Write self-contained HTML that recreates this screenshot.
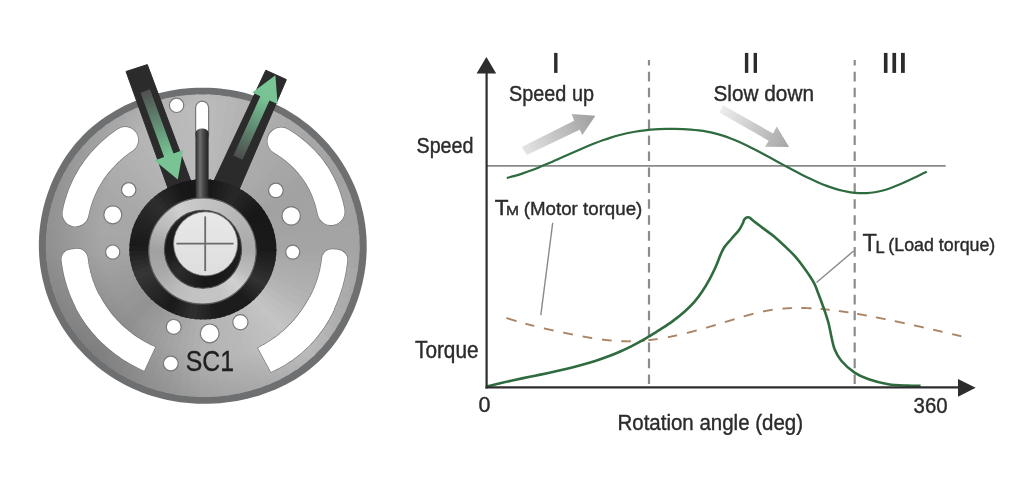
<!DOCTYPE html>
<html><head><meta charset="utf-8"><style>
html,body{margin:0;padding:0;background:#fff;width:1024px;height:485px;overflow:hidden}
svg{display:block}
text{font-family:"Liberation Sans", sans-serif;fill:#2b2b2b;stroke:#2b2b2b;stroke-width:0.4px}
</style></head><body>
<svg width="1024" height="485" viewBox="0 0 1024 485">

<defs>
<linearGradient id="gup" x1="522" y1="151" x2="595" y2="116" gradientUnits="userSpaceOnUse">
 <stop offset="0" stop-color="#e6e6e6"/><stop offset="1" stop-color="#9e9e9e"/></linearGradient>
<linearGradient id="gdown" x1="721" y1="109" x2="789" y2="147" gradientUnits="userSpaceOnUse">
 <stop offset="0" stop-color="#ededed"/><stop offset="1" stop-color="#a6a6a6"/></linearGradient>
<radialGradient id="vign" cx="228" cy="228" r="192" gradientUnits="userSpaceOnUse">
 <stop offset="0.66" stop-color="#000" stop-opacity="0"/><stop offset="1" stop-color="#000" stop-opacity="0.16"/></radialGradient>
<linearGradient id="rod" x1="0" y1="0" x2="1" y2="0">
 <stop offset="0" stop-color="#2a2a2a"/><stop offset="0.35" stop-color="#6e6e6e"/><stop offset="0.6" stop-color="#4a4a4a"/><stop offset="1" stop-color="#222"/></linearGradient>
<linearGradient id="blk" x1="0" y1="0" x2="1" y2="1">
 <stop offset="0" stop-color="#222"/><stop offset="0.5" stop-color="#2c2c2c"/><stop offset="1" stop-color="#181818"/></linearGradient>
<linearGradient id="silv" x1="0" y1="0" x2="0" y2="1">
 <stop offset="0" stop-color="#d0d0d0"/><stop offset="1" stop-color="#a8a8a8"/></linearGradient>
<linearGradient id="crs" x1="0" y1="0" x2="0" y2="1">
 <stop offset="0" stop-color="#3a3a3a"/><stop offset="1" stop-color="#1a1a1a"/></linearGradient>
<linearGradient id="wd" x1="0" y1="0" x2="0" y2="1">
 <stop offset="0" stop-color="#e8e8e8"/><stop offset="1" stop-color="#dedede"/></linearGradient>
<linearGradient id="gl" x1="145" y1="91" x2="178" y2="180" gradientUnits="userSpaceOnUse">
 <stop offset="0" stop-color="#505050"/><stop offset="0.45" stop-color="#66987a"/><stop offset="0.72" stop-color="#78c394"/><stop offset="1" stop-color="#7ac496"/></linearGradient>
<linearGradient id="gr" x1="238" y1="158" x2="275" y2="75" gradientUnits="userSpaceOnUse">
 <stop offset="0" stop-color="#4c4c4c"/><stop offset="0.45" stop-color="#66987a"/><stop offset="0.72" stop-color="#78c394"/><stop offset="1" stop-color="#7ac496"/></linearGradient>
</defs>

<rect width="1024" height="485" fill="#fff"/>

<path d="M366.72,245.65 L366.65,251.17 L366.38,256.68 L365.93,262.18 L365.29,267.67 L364.46,273.14 L363.44,278.58 L362.25,283.99 L360.88,289.36 L359.32,294.69 L357.59,299.98 L355.69,305.22 L353.61,310.40 L351.35,315.52 L348.91,320.57 L346.29,325.54 L343.49,330.43 L340.51,335.23 L337.34,339.92 L333.99,344.50 L330.45,348.95 L326.73,353.27 L322.83,357.44 L318.75,361.45 L314.50,365.30 L310.09,368.97 L305.52,372.46 L300.81,375.77 L295.97,378.88 L291.01,381.81 L285.93,384.55 L280.76,387.09 L275.50,389.45 L270.17,391.62 L264.76,393.61 L259.30,395.42 L253.78,397.05 L248.22,398.51 L242.61,399.79 L236.98,400.89 L231.31,401.82 L225.63,402.58 L219.92,403.16 L214.20,403.56 L208.48,403.79 L202.75,403.83 L197.03,403.69 L191.31,403.37 L185.61,402.86 L179.93,402.17 L174.28,401.29 L168.67,400.22 L163.10,398.98 L157.57,397.54 L152.10,395.93 L146.69,394.13 L141.35,392.15 L136.09,389.99 L130.90,387.66 L125.81,385.16 L120.80,382.48 L115.90,379.64 L111.10,376.64 L106.42,373.47 L101.85,370.16 L97.40,366.69 L93.08,363.07 L88.90,359.31 L84.85,355.41 L80.95,351.37 L77.20,347.21 L73.60,342.92 L70.16,338.52 L66.88,334.00 L63.76,329.38 L60.81,324.65 L58.04,319.83 L55.44,314.91 L53.03,309.91 L50.79,304.84 L48.74,299.69 L46.88,294.47 L45.20,289.20 L43.72,283.87 L42.44,278.50 L41.34,273.09 L40.45,267.64 L39.75,262.17 L39.24,256.67 L38.94,251.16 L38.83,245.65 L38.92,240.13 L39.20,234.63 L39.68,229.13 L40.35,223.65 L41.22,218.19 L42.27,212.76 L43.50,207.37 L44.92,202.02 L46.53,196.72 L48.31,191.46 L50.27,186.26 L52.42,181.12 L54.74,176.05 L57.23,171.06 L59.91,166.15 L62.77,161.32 L65.80,156.60 L69.02,151.98 L72.42,147.49 L75.99,143.11 L79.74,138.88 L83.66,134.78 L87.75,130.85 L91.99,127.07 L96.39,123.45 L100.92,120.00 L105.59,116.73 L110.38,113.63 L115.28,110.70 L120.28,107.95 L125.38,105.37 L130.56,102.96 L135.82,100.72 L141.15,98.66 L146.54,96.77 L151.99,95.05 L157.49,93.50 L163.05,92.13 L168.64,90.94 L174.27,89.92 L179.93,89.09 L185.61,88.45 L191.31,87.99 L197.03,87.71 L202.75,87.63 L208.47,87.73 L214.18,88.02 L219.88,88.51 L225.56,89.18 L231.21,90.05 L236.83,91.10 L242.40,92.34 L247.93,93.77 L253.40,95.38 L258.80,97.18 L264.15,99.15 L269.41,101.31 L274.60,103.64 L279.69,106.14 L284.70,108.82 L289.60,111.66 L294.40,114.66 L299.08,117.83 L303.65,121.14 L308.10,124.61 L312.42,128.23 L316.60,131.99 L320.65,135.89 L324.55,139.93 L328.30,144.09 L331.90,148.38 L335.34,152.78 L338.62,157.30 L341.74,161.92 L344.69,166.65 L347.46,171.47 L350.06,176.39 L352.47,181.39 L354.71,186.46 L356.76,191.61 L358.62,196.82 L360.30,202.10 L361.78,207.42 L363.07,212.80 L364.17,218.21 L365.07,223.66 L365.77,229.13 L366.29,234.63 L366.60,240.13 Z" fill="#6d6f71"/>
<clipPath id="facec"><path d="M359.65,245.65 L359.58,250.93 L359.32,256.20 L358.88,261.47 L358.25,266.72 L357.45,271.95 L356.47,277.15 L355.31,282.32 L353.98,287.45 L352.47,292.55 L350.80,297.60 L348.95,302.60 L346.94,307.54 L344.75,312.42 L342.39,317.23 L339.86,321.96 L337.16,326.62 L334.28,331.18 L331.24,335.64 L328.01,340.00 L324.62,344.23 L321.05,348.34 L317.32,352.31 L313.42,356.13 L309.36,359.80 L305.15,363.30 L300.80,366.64 L296.32,369.81 L291.71,372.80 L286.99,375.61 L282.16,378.24 L277.24,380.70 L272.23,382.98 L267.15,385.08 L261.99,387.01 L256.78,388.77 L251.52,390.36 L246.21,391.77 L240.86,393.02 L235.48,394.10 L230.07,395.01 L224.63,395.75 L219.18,396.32 L213.71,396.72 L208.23,396.94 L202.75,396.99 L197.27,396.87 L191.80,396.56 L186.35,396.08 L180.92,395.42 L175.51,394.58 L170.14,393.57 L164.80,392.37 L159.52,391.00 L154.28,389.46 L149.11,387.74 L144.00,385.84 L138.96,383.78 L134.00,381.55 L129.12,379.15 L124.33,376.59 L119.64,373.88 L115.05,371.00 L110.56,367.97 L106.19,364.80 L101.94,361.48 L97.80,358.01 L93.80,354.41 L89.93,350.68 L86.20,346.82 L82.60,342.84 L79.16,338.74 L75.86,334.52 L72.72,330.20 L69.74,325.77 L66.92,321.25 L64.27,316.63 L61.78,311.93 L59.47,307.15 L57.33,302.29 L55.37,297.36 L53.59,292.37 L51.99,287.33 L50.57,282.23 L49.34,277.09 L48.29,271.91 L47.43,266.69 L46.76,261.46 L46.28,256.20 L45.99,250.93 L45.89,245.65 L45.98,240.37 L46.25,235.10 L46.71,229.84 L47.36,224.60 L48.19,219.38 L49.20,214.19 L50.39,209.03 L51.76,203.91 L53.31,198.84 L55.03,193.82 L56.92,188.85 L58.98,183.94 L61.22,179.10 L63.62,174.34 L66.20,169.65 L68.95,165.05 L71.87,160.54 L74.96,156.14 L78.21,151.85 L81.64,147.68 L85.23,143.64 L88.98,139.73 L92.88,135.97 L96.93,132.35 L101.12,128.89 L105.45,125.59 L109.90,122.45 L114.47,119.47 L119.14,116.66 L123.91,114.01 L128.78,111.53 L133.72,109.21 L138.74,107.05 L143.83,105.06 L148.98,103.24 L154.19,101.58 L159.45,100.09 L164.76,98.77 L170.11,97.62 L175.50,96.65 L180.91,95.85 L186.35,95.22 L191.81,94.78 L197.28,94.51 L202.75,94.43 L208.22,94.53 L213.69,94.81 L219.14,95.27 L224.58,95.92 L229.99,96.74 L235.36,97.75 L240.69,98.94 L245.98,100.31 L251.22,101.85 L256.39,103.57 L261.50,105.46 L266.54,107.52 L271.50,109.75 L276.38,112.15 L281.17,114.71 L285.86,117.43 L290.45,120.30 L294.94,123.33 L299.31,126.50 L303.56,129.82 L307.70,133.29 L311.70,136.89 L315.57,140.62 L319.30,144.48 L322.90,148.46 L326.34,152.56 L329.64,156.78 L332.78,161.10 L335.76,165.53 L338.58,170.05 L341.23,174.67 L343.72,179.37 L346.03,184.15 L348.17,189.01 L350.13,193.94 L351.92,198.93 L353.52,203.97 L354.94,209.07 L356.17,214.21 L357.22,219.39 L358.08,224.60 L358.75,229.84 L359.24,235.10 L359.54,240.37 Z"/></clipPath>
<g clip-path="url(#facec)"><path d="M203,248 L423.0,245.7 L422.3,265.6 Z" fill="rgb(165,165,165)"/>
<path d="M203,248 L422.6,261.0 L420.5,280.9 Z" fill="rgb(167,167,167)"/>
<path d="M203,248 L421.2,276.3 L417.7,296.0 Z" fill="rgb(170,170,170)"/>
<path d="M203,248 L418.7,291.5 L413.8,310.9 Z" fill="rgb(172,172,172)"/>
<path d="M203,248 L415.1,306.4 L408.9,325.4 Z" fill="rgb(174,174,174)"/>
<path d="M203,248 L410.5,321.1 L403.0,339.6 Z" fill="rgb(176,176,176)"/>
<path d="M203,248 L404.9,335.4 L396.2,353.3 Z" fill="rgb(179,179,179)"/>
<path d="M203,248 L398.3,349.2 L388.3,366.5 Z" fill="rgb(182,182,182)"/>
<path d="M203,248 L390.8,362.6 L379.6,379.2 Z" fill="rgb(186,186,186)"/>
<path d="M203,248 L382.3,375.4 L370.0,391.2 Z" fill="rgb(190,190,190)"/>
<path d="M203,248 L373.0,387.6 L359.6,402.5 Z" fill="rgb(193,193,193)"/>
<path d="M203,248 L362.8,399.2 L348.5,413.0 Z" fill="rgb(196,196,196)"/>
<path d="M203,248 L351.9,409.9 L336.6,422.8 Z" fill="rgb(194,194,194)"/>
<path d="M203,248 L340.3,419.9 L324.1,431.7 Z" fill="rgb(192,192,192)"/>
<path d="M203,248 L327.9,429.1 L311.0,439.7 Z" fill="rgb(190,190,190)"/>
<path d="M203,248 L315.0,437.4 L297.4,446.7 Z" fill="rgb(188,188,188)"/>
<path d="M203,248 L301.5,444.7 L283.3,452.8 Z" fill="rgb(186,186,186)"/>
<path d="M203,248 L287.5,451.1 L268.8,457.9 Z" fill="rgb(184,184,184)"/>
<path d="M203,248 L273.2,456.5 L254.0,462.0 Z" fill="rgb(183,183,183)"/>
<path d="M203,248 L258.5,460.9 L238.9,465.0 Z" fill="rgb(182,182,182)"/>
<path d="M203,248 L243.5,464.2 L223.7,467.0 Z" fill="rgb(181,181,181)"/>
<path d="M203,248 L228.3,466.5 L208.4,467.9 Z" fill="rgb(179,179,179)"/>
<path d="M203,248 L213.0,467.8 L193.0,467.8 Z" fill="rgb(178,178,178)"/>
<path d="M203,248 L197.6,467.9 L177.7,466.5 Z" fill="rgb(175,175,175)"/>
<path d="M203,248 L182.3,467.0 L162.5,464.2 Z" fill="rgb(172,172,172)"/>
<path d="M203,248 L167.1,465.0 L147.5,460.9 Z" fill="rgb(169,169,169)"/>
<path d="M203,248 L152.0,462.0 L132.8,456.5 Z" fill="rgb(166,166,166)"/>
<path d="M203,248 L137.2,457.9 L118.5,451.1 Z" fill="rgb(164,164,164)"/>
<path d="M203,248 L122.7,452.8 L104.5,444.7 Z" fill="rgb(161,161,161)"/>
<path d="M203,248 L108.6,446.7 L91.0,437.4 Z" fill="rgb(158,158,158)"/>
<path d="M203,248 L95.0,439.7 L78.1,429.1 Z" fill="rgb(155,155,155)"/>
<path d="M203,248 L81.9,431.7 L65.7,419.9 Z" fill="rgb(152,152,152)"/>
<path d="M203,248 L69.4,422.8 L54.1,409.9 Z" fill="rgb(150,150,150)"/>
<path d="M203,248 L57.5,413.0 L43.2,399.2 Z" fill="rgb(147,147,147)"/>
<path d="M203,248 L46.4,402.5 L33.0,387.6 Z" fill="rgb(147,147,147)"/>
<path d="M203,248 L36.0,391.2 L23.7,375.4 Z" fill="rgb(149,149,149)"/>
<path d="M203,248 L26.4,379.2 L15.2,362.6 Z" fill="rgb(150,150,150)"/>
<path d="M203,248 L17.7,366.5 L7.7,349.2 Z" fill="rgb(152,152,152)"/>
<path d="M203,248 L9.8,353.3 L1.1,335.4 Z" fill="rgb(154,154,154)"/>
<path d="M203,248 L3.0,339.6 L-4.5,321.1 Z" fill="rgb(155,155,155)"/>
<path d="M203,248 L-2.9,325.4 L-9.1,306.4 Z" fill="rgb(157,157,157)"/>
<path d="M203,248 L-7.8,310.9 L-12.7,291.5 Z" fill="rgb(159,159,159)"/>
<path d="M203,248 L-11.7,296.0 L-15.2,276.3 Z" fill="rgb(161,161,161)"/>
<path d="M203,248 L-14.5,280.9 L-16.6,261.0 Z" fill="rgb(163,163,163)"/>
<path d="M203,248 L-16.3,265.6 L-17.0,245.7 Z" fill="rgb(165,165,165)"/>
<path d="M203,248 L-17.0,250.3 L-16.3,230.4 Z" fill="rgb(166,166,166)"/>
<path d="M203,248 L-16.6,235.0 L-14.5,215.1 Z" fill="rgb(166,166,166)"/>
<path d="M203,248 L-15.2,219.7 L-11.7,200.0 Z" fill="rgb(167,167,167)"/>
<path d="M203,248 L-12.7,204.5 L-7.8,185.1 Z" fill="rgb(167,167,167)"/>
<path d="M203,248 L-9.1,189.6 L-2.9,170.6 Z" fill="rgb(167,167,167)"/>
<path d="M203,248 L-4.5,174.9 L3.0,156.4 Z" fill="rgb(167,167,167)"/>
<path d="M203,248 L1.1,160.6 L9.8,142.7 Z" fill="rgb(168,168,168)"/>
<path d="M203,248 L7.7,146.8 L17.7,129.5 Z" fill="rgb(168,168,168)"/>
<path d="M203,248 L15.2,133.4 L26.4,116.8 Z" fill="rgb(170,170,170)"/>
<path d="M203,248 L23.7,120.6 L36.0,104.8 Z" fill="rgb(171,171,171)"/>
<path d="M203,248 L33.0,108.4 L46.4,93.5 Z" fill="rgb(173,173,173)"/>
<path d="M203,248 L43.2,96.8 L57.5,83.0 Z" fill="rgb(174,174,174)"/>
<path d="M203,248 L54.1,86.1 L69.4,73.2 Z" fill="rgb(176,176,176)"/>
<path d="M203,248 L65.7,76.1 L81.9,64.3 Z" fill="rgb(178,178,178)"/>
<path d="M203,248 L78.1,66.9 L95.0,56.3 Z" fill="rgb(179,179,179)"/>
<path d="M203,248 L91.0,58.6 L108.6,49.3 Z" fill="rgb(181,181,181)"/>
<path d="M203,248 L104.5,51.3 L122.7,43.2 Z" fill="rgb(182,182,182)"/>
<path d="M203,248 L118.5,44.9 L137.2,38.1 Z" fill="rgb(183,183,183)"/>
<path d="M203,248 L132.8,39.5 L152.0,34.0 Z" fill="rgb(184,184,184)"/>
<path d="M203,248 L147.5,35.1 L167.1,31.0 Z" fill="rgb(185,185,185)"/>
<path d="M203,248 L162.5,31.8 L182.3,29.0 Z" fill="rgb(186,186,186)"/>
<path d="M203,248 L177.7,29.5 L197.6,28.1 Z" fill="rgb(187,187,187)"/>
<path d="M203,248 L193.0,28.2 L213.0,28.2 Z" fill="rgb(188,188,188)"/>
<path d="M203,248 L208.4,28.1 L228.3,29.5 Z" fill="rgb(186,186,186)"/>
<path d="M203,248 L223.7,29.0 L243.5,31.8 Z" fill="rgb(184,184,184)"/>
<path d="M203,248 L238.9,31.0 L258.5,35.1 Z" fill="rgb(182,182,182)"/>
<path d="M203,248 L254.0,34.0 L273.2,39.5 Z" fill="rgb(179,179,179)"/>
<path d="M203,248 L268.8,38.1 L287.5,44.9 Z" fill="rgb(177,177,177)"/>
<path d="M203,248 L283.3,43.2 L301.5,51.3 Z" fill="rgb(175,175,175)"/>
<path d="M203,248 L297.4,49.3 L315.0,58.6 Z" fill="rgb(173,173,173)"/>
<path d="M203,248 L311.0,56.3 L327.9,66.9 Z" fill="rgb(171,171,171)"/>
<path d="M203,248 L324.1,64.3 L340.3,76.1 Z" fill="rgb(170,170,170)"/>
<path d="M203,248 L336.6,73.2 L351.9,86.1 Z" fill="rgb(169,169,169)"/>
<path d="M203,248 L348.5,83.0 L362.8,96.8 Z" fill="rgb(167,167,167)"/>
<path d="M203,248 L359.6,93.5 L373.0,108.4 Z" fill="rgb(166,166,166)"/>
<path d="M203,248 L370.0,104.8 L382.3,120.6 Z" fill="rgb(165,165,165)"/>
<path d="M203,248 L379.6,116.8 L390.8,133.4 Z" fill="rgb(163,163,163)"/>
<path d="M203,248 L388.3,129.5 L398.3,146.8 Z" fill="rgb(162,162,162)"/>
<path d="M203,248 L396.2,142.7 L404.9,160.6 Z" fill="rgb(162,162,162)"/>
<path d="M203,248 L403.0,156.4 L410.5,174.9 Z" fill="rgb(163,163,163)"/>
<path d="M203,248 L408.9,170.6 L415.1,189.6 Z" fill="rgb(163,163,163)"/>
<path d="M203,248 L413.8,185.1 L418.7,204.5 Z" fill="rgb(163,163,163)"/>
<path d="M203,248 L417.7,200.0 L421.2,219.7 Z" fill="rgb(163,163,163)"/>
<path d="M203,248 L420.5,215.1 L422.6,235.0 Z" fill="rgb(164,164,164)"/>
<path d="M203,248 L422.3,230.4 L423.0,250.3 Z" fill="rgb(164,164,164)"/>
<path d="M359.65,245.65 L359.58,250.93 L359.32,256.20 L358.88,261.47 L358.25,266.72 L357.45,271.95 L356.47,277.15 L355.31,282.32 L353.98,287.45 L352.47,292.55 L350.80,297.60 L348.95,302.60 L346.94,307.54 L344.75,312.42 L342.39,317.23 L339.86,321.96 L337.16,326.62 L334.28,331.18 L331.24,335.64 L328.01,340.00 L324.62,344.23 L321.05,348.34 L317.32,352.31 L313.42,356.13 L309.36,359.80 L305.15,363.30 L300.80,366.64 L296.32,369.81 L291.71,372.80 L286.99,375.61 L282.16,378.24 L277.24,380.70 L272.23,382.98 L267.15,385.08 L261.99,387.01 L256.78,388.77 L251.52,390.36 L246.21,391.77 L240.86,393.02 L235.48,394.10 L230.07,395.01 L224.63,395.75 L219.18,396.32 L213.71,396.72 L208.23,396.94 L202.75,396.99 L197.27,396.87 L191.80,396.56 L186.35,396.08 L180.92,395.42 L175.51,394.58 L170.14,393.57 L164.80,392.37 L159.52,391.00 L154.28,389.46 L149.11,387.74 L144.00,385.84 L138.96,383.78 L134.00,381.55 L129.12,379.15 L124.33,376.59 L119.64,373.88 L115.05,371.00 L110.56,367.97 L106.19,364.80 L101.94,361.48 L97.80,358.01 L93.80,354.41 L89.93,350.68 L86.20,346.82 L82.60,342.84 L79.16,338.74 L75.86,334.52 L72.72,330.20 L69.74,325.77 L66.92,321.25 L64.27,316.63 L61.78,311.93 L59.47,307.15 L57.33,302.29 L55.37,297.36 L53.59,292.37 L51.99,287.33 L50.57,282.23 L49.34,277.09 L48.29,271.91 L47.43,266.69 L46.76,261.46 L46.28,256.20 L45.99,250.93 L45.89,245.65 L45.98,240.37 L46.25,235.10 L46.71,229.84 L47.36,224.60 L48.19,219.38 L49.20,214.19 L50.39,209.03 L51.76,203.91 L53.31,198.84 L55.03,193.82 L56.92,188.85 L58.98,183.94 L61.22,179.10 L63.62,174.34 L66.20,169.65 L68.95,165.05 L71.87,160.54 L74.96,156.14 L78.21,151.85 L81.64,147.68 L85.23,143.64 L88.98,139.73 L92.88,135.97 L96.93,132.35 L101.12,128.89 L105.45,125.59 L109.90,122.45 L114.47,119.47 L119.14,116.66 L123.91,114.01 L128.78,111.53 L133.72,109.21 L138.74,107.05 L143.83,105.06 L148.98,103.24 L154.19,101.58 L159.45,100.09 L164.76,98.77 L170.11,97.62 L175.50,96.65 L180.91,95.85 L186.35,95.22 L191.81,94.78 L197.28,94.51 L202.75,94.43 L208.22,94.53 L213.69,94.81 L219.14,95.27 L224.58,95.92 L229.99,96.74 L235.36,97.75 L240.69,98.94 L245.98,100.31 L251.22,101.85 L256.39,103.57 L261.50,105.46 L266.54,107.52 L271.50,109.75 L276.38,112.15 L281.17,114.71 L285.86,117.43 L290.45,120.30 L294.94,123.33 L299.31,126.50 L303.56,129.82 L307.70,133.29 L311.70,136.89 L315.57,140.62 L319.30,144.48 L322.90,148.46 L326.34,152.56 L329.64,156.78 L332.78,161.10 L335.76,165.53 L338.58,170.05 L341.23,174.67 L343.72,179.37 L346.03,184.15 L348.17,189.01 L350.13,193.94 L351.92,198.93 L353.52,203.97 L354.94,209.07 L356.17,214.21 L357.22,219.39 L358.08,224.60 L358.75,229.84 L359.24,235.10 L359.54,240.37 Z" fill="url(#vign)"/></g>
<path d="M75.53,213.47 L75.98,211.30 L76.48,209.13 L77.02,206.97 L77.59,204.81 L78.22,202.66 L78.88,200.53 L79.58,198.40 L80.33,196.28 L81.12,194.18 L81.95,192.09 L82.83,190.01 L83.74,187.95 L84.71,185.90 L85.71,183.88 L86.75,181.87 L87.84,179.88 L88.97,177.91 L90.14,175.96 L91.36,174.03 L92.61,172.13 L93.90,170.25 L95.24,168.39 L96.61,166.56 L98.02,164.76 L99.47,162.99 L100.95,161.24 L102.47,159.52 L104.03,157.83 L105.62,156.17 L107.24,154.54 L108.90,152.94 L110.59,151.37 L112.31,149.83 L114.06,148.32 L115.84,146.85 L117.64,145.41 L119.47,144.00 L121.33,142.62 L123.22,141.27 L125.13,139.96" fill="none" stroke="#76787a" stroke-width="27.3" stroke-linecap="round" stroke-linejoin="round"/>
<path d="M281.02,141.02 L282.94,142.20 L284.83,143.42 L286.70,144.67 L288.55,145.95 L290.38,147.26 L292.18,148.61 L293.95,150.00 L295.70,151.42 L297.42,152.87 L299.11,154.36 L300.76,155.89 L302.39,157.45 L303.98,159.04 L305.53,160.67 L307.05,162.32 L308.52,164.02 L309.96,165.74 L311.36,167.49 L312.72,169.27 L314.03,171.09 L315.31,172.93 L316.54,174.79 L317.72,176.69 L318.86,178.60 L319.96,180.54 L321.01,182.51 L322.02,184.49 L322.98,186.49 L323.89,188.51 L324.76,190.55 L325.59,192.60 L326.36,194.67 L327.10,196.75 L327.79,198.85 L328.44,200.95 L329.05,203.06 L329.61,205.18 L330.13,207.31 L330.61,209.44 L331.06,211.58" fill="none" stroke="#76787a" stroke-width="28.3" stroke-linecap="round" stroke-linejoin="round"/>
<path d="M71.57,259.35 L72.00,262.70 L72.51,266.04 L73.12,269.37 L73.82,272.68 L74.61,275.97 L75.49,279.23 L76.46,282.48 L77.51,285.70 L78.66,288.89 L79.90,292.05 L81.22,295.17 L82.62,298.26 L84.11,301.32 L85.69,304.34 L87.34,307.31 L89.08,310.24 L90.90,313.13 L92.80,315.96 L94.77,318.75 L96.82,321.49 L101.74,317.97 L99.78,315.36 L97.90,312.70 L96.09,310.00 L94.35,307.24 L92.70,304.45 L91.12,301.61 L89.62,298.74 L88.19,295.82 L86.85,292.88 L85.59,289.89 L84.42,286.88 L83.32,283.84 L82.31,280.77 L81.39,277.68 L80.55,274.56 L79.80,271.42 L79.13,268.27 L78.55,265.10 L78.06,261.91 L77.66,258.72 Z" fill="#76787a" stroke="#76787a" stroke-width="21.3" stroke-linejoin="round"/>
<path d="M75.50,307.08 L76.98,309.86 L78.53,312.60 L80.14,315.30 L81.81,317.98 L83.55,320.61 L85.35,323.20 L87.21,325.76 L89.13,328.27 L91.11,330.74 L93.15,333.17 L95.24,335.55 L97.39,337.88 L99.59,340.17 L101.85,342.41 L104.16,344.59 L106.52,346.73 L108.93,348.81 L111.38,350.84 L113.89,352.82 L116.44,354.74 L119.04,356.60 L121.68,358.41 L124.36,360.16 L127.08,361.85 L129.84,363.48 L132.64,365.05 L135.48,366.55 L138.35,368.00 L141.25,369.38 L144.18,370.69 L155.24,347.09 L152.86,346.02 L150.50,344.90 L148.18,343.73 L145.88,342.51 L143.61,341.24 L141.37,339.91 L139.16,338.54 L136.98,337.13 L134.84,335.66 L132.73,334.15 L130.66,332.59 L128.63,330.99 L126.64,329.34 L124.68,327.65 L122.77,325.91 L120.90,324.14 L119.06,322.32 L117.28,320.47 L115.53,318.58 L113.84,316.65 L112.18,314.68 L110.58,312.67 L109.02,310.63 L107.51,308.56 L106.05,306.46 L104.64,304.32 L103.28,302.16 L101.98,299.96 L100.72,297.74 L99.52,295.49 Z" fill="#76787a" stroke="#76787a" stroke-width="1.3" stroke-linejoin="miter"/>
<path d="M337.31,259.71 L336.92,263.15 L336.44,266.58 L335.87,270.01 L335.22,273.42 L334.48,276.81 L333.66,280.19 L332.75,283.56 L331.76,286.90 L330.69,290.23 L329.53,293.53 L328.29,296.81 L326.97,300.06 L325.56,303.28 L324.07,306.47 L322.50,309.63 L320.83,312.75 L319.08,315.83 L317.24,318.87 L315.31,321.85 L313.29,324.79 L307.10,320.36 L309.12,317.66 L311.06,314.91 L312.93,312.12 L314.72,309.28 L316.43,306.39 L318.06,303.46 L319.62,300.49 L321.08,297.48 L322.47,294.43 L323.77,291.35 L324.99,288.24 L326.11,285.10 L327.16,281.93 L328.11,278.73 L328.98,275.51 L329.76,272.27 L330.44,269.01 L331.04,265.74 L331.55,262.45 L331.97,259.15 Z" fill="#76787a" stroke="#76787a" stroke-width="21.3" stroke-linejoin="round"/>
<path d="M334.22,309.12 L332.92,311.80 L331.57,314.47 L330.16,317.11 L328.70,319.72 L327.17,322.31 L325.59,324.86 L323.94,327.39 L322.24,329.87 L320.47,332.33 L318.65,334.74 L316.77,337.11 L314.82,339.44 L312.82,341.72 L310.76,343.95 L308.64,346.14 L306.46,348.27 L304.23,350.35 L301.94,352.38 L299.60,354.34 L297.21,356.25 L294.77,358.10 L292.29,359.89 L289.76,361.62 L287.18,363.29 L284.57,364.89 L281.92,366.44 L279.23,367.92 L276.51,369.34 L273.76,370.70 L270.98,372.00 L257.98,347.92 L260.18,346.79 L262.36,345.61 L264.51,344.39 L266.64,343.12 L268.73,341.82 L270.80,340.47 L272.84,339.08 L274.85,337.64 L276.83,336.17 L278.77,334.66 L280.68,333.11 L282.56,331.52 L284.40,329.90 L286.21,328.23 L287.98,326.54 L289.72,324.80 L291.41,323.03 L293.07,321.23 L294.69,319.40 L296.26,317.53 L297.80,315.63 L299.30,313.70 L300.75,311.74 L302.16,309.76 L303.53,307.74 L304.85,305.70 L306.13,303.63 L307.36,301.54 L308.55,299.42 L309.69,297.28 Z" fill="#76787a" stroke="#76787a" stroke-width="1.3" stroke-linejoin="miter"/>
<path d="M75.53,213.47 L75.98,211.30 L76.48,209.13 L77.02,206.97 L77.59,204.81 L78.22,202.66 L78.88,200.53 L79.58,198.40 L80.33,196.28 L81.12,194.18 L81.95,192.09 L82.83,190.01 L83.74,187.95 L84.71,185.90 L85.71,183.88 L86.75,181.87 L87.84,179.88 L88.97,177.91 L90.14,175.96 L91.36,174.03 L92.61,172.13 L93.90,170.25 L95.24,168.39 L96.61,166.56 L98.02,164.76 L99.47,162.99 L100.95,161.24 L102.47,159.52 L104.03,157.83 L105.62,156.17 L107.24,154.54 L108.90,152.94 L110.59,151.37 L112.31,149.83 L114.06,148.32 L115.84,146.85 L117.64,145.41 L119.47,144.00 L121.33,142.62 L123.22,141.27 L125.13,139.96" fill="none" stroke="#ffffff" stroke-width="26.0" stroke-linecap="round" stroke-linejoin="round"/>
<path d="M281.02,141.02 L282.94,142.20 L284.83,143.42 L286.70,144.67 L288.55,145.95 L290.38,147.26 L292.18,148.61 L293.95,150.00 L295.70,151.42 L297.42,152.87 L299.11,154.36 L300.76,155.89 L302.39,157.45 L303.98,159.04 L305.53,160.67 L307.05,162.32 L308.52,164.02 L309.96,165.74 L311.36,167.49 L312.72,169.27 L314.03,171.09 L315.31,172.93 L316.54,174.79 L317.72,176.69 L318.86,178.60 L319.96,180.54 L321.01,182.51 L322.02,184.49 L322.98,186.49 L323.89,188.51 L324.76,190.55 L325.59,192.60 L326.36,194.67 L327.10,196.75 L327.79,198.85 L328.44,200.95 L329.05,203.06 L329.61,205.18 L330.13,207.31 L330.61,209.44 L331.06,211.58" fill="none" stroke="#ffffff" stroke-width="27.0" stroke-linecap="round" stroke-linejoin="round"/>
<path d="M71.57,259.35 L72.00,262.70 L72.51,266.04 L73.12,269.37 L73.82,272.68 L74.61,275.97 L75.49,279.23 L76.46,282.48 L77.51,285.70 L78.66,288.89 L79.90,292.05 L81.22,295.17 L82.62,298.26 L84.11,301.32 L85.69,304.34 L87.34,307.31 L89.08,310.24 L90.90,313.13 L92.80,315.96 L94.77,318.75 L96.82,321.49 L101.74,317.97 L99.78,315.36 L97.90,312.70 L96.09,310.00 L94.35,307.24 L92.70,304.45 L91.12,301.61 L89.62,298.74 L88.19,295.82 L86.85,292.88 L85.59,289.89 L84.42,286.88 L83.32,283.84 L82.31,280.77 L81.39,277.68 L80.55,274.56 L79.80,271.42 L79.13,268.27 L78.55,265.10 L78.06,261.91 L77.66,258.72 Z" fill="#ffffff" stroke="#ffffff" stroke-width="20.0" stroke-linejoin="round"/>
<path d="M75.50,307.08 L76.98,309.86 L78.53,312.60 L80.14,315.30 L81.81,317.98 L83.55,320.61 L85.35,323.20 L87.21,325.76 L89.13,328.27 L91.11,330.74 L93.15,333.17 L95.24,335.55 L97.39,337.88 L99.59,340.17 L101.85,342.41 L104.16,344.59 L106.52,346.73 L108.93,348.81 L111.38,350.84 L113.89,352.82 L116.44,354.74 L119.04,356.60 L121.68,358.41 L124.36,360.16 L127.08,361.85 L129.84,363.48 L132.64,365.05 L135.48,366.55 L138.35,368.00 L141.25,369.38 L144.18,370.69 L155.24,347.09 L152.86,346.02 L150.50,344.90 L148.18,343.73 L145.88,342.51 L143.61,341.24 L141.37,339.91 L139.16,338.54 L136.98,337.13 L134.84,335.66 L132.73,334.15 L130.66,332.59 L128.63,330.99 L126.64,329.34 L124.68,327.65 L122.77,325.91 L120.90,324.14 L119.06,322.32 L117.28,320.47 L115.53,318.58 L113.84,316.65 L112.18,314.68 L110.58,312.67 L109.02,310.63 L107.51,308.56 L106.05,306.46 L104.64,304.32 L103.28,302.16 L101.98,299.96 L100.72,297.74 L99.52,295.49 Z" fill="#ffffff"/>
<path d="M337.31,259.71 L336.92,263.15 L336.44,266.58 L335.87,270.01 L335.22,273.42 L334.48,276.81 L333.66,280.19 L332.75,283.56 L331.76,286.90 L330.69,290.23 L329.53,293.53 L328.29,296.81 L326.97,300.06 L325.56,303.28 L324.07,306.47 L322.50,309.63 L320.83,312.75 L319.08,315.83 L317.24,318.87 L315.31,321.85 L313.29,324.79 L307.10,320.36 L309.12,317.66 L311.06,314.91 L312.93,312.12 L314.72,309.28 L316.43,306.39 L318.06,303.46 L319.62,300.49 L321.08,297.48 L322.47,294.43 L323.77,291.35 L324.99,288.24 L326.11,285.10 L327.16,281.93 L328.11,278.73 L328.98,275.51 L329.76,272.27 L330.44,269.01 L331.04,265.74 L331.55,262.45 L331.97,259.15 Z" fill="#ffffff" stroke="#ffffff" stroke-width="20.0" stroke-linejoin="round"/>
<path d="M334.22,309.12 L332.92,311.80 L331.57,314.47 L330.16,317.11 L328.70,319.72 L327.17,322.31 L325.59,324.86 L323.94,327.39 L322.24,329.87 L320.47,332.33 L318.65,334.74 L316.77,337.11 L314.82,339.44 L312.82,341.72 L310.76,343.95 L308.64,346.14 L306.46,348.27 L304.23,350.35 L301.94,352.38 L299.60,354.34 L297.21,356.25 L294.77,358.10 L292.29,359.89 L289.76,361.62 L287.18,363.29 L284.57,364.89 L281.92,366.44 L279.23,367.92 L276.51,369.34 L273.76,370.70 L270.98,372.00 L257.98,347.92 L260.18,346.79 L262.36,345.61 L264.51,344.39 L266.64,343.12 L268.73,341.82 L270.80,340.47 L272.84,339.08 L274.85,337.64 L276.83,336.17 L278.77,334.66 L280.68,333.11 L282.56,331.52 L284.40,329.90 L286.21,328.23 L287.98,326.54 L289.72,324.80 L291.41,323.03 L293.07,321.23 L294.69,319.40 L296.26,317.53 L297.80,315.63 L299.30,313.70 L300.75,311.74 L302.16,309.76 L303.53,307.74 L304.85,305.70 L306.13,303.63 L307.36,301.54 L308.55,299.42 L309.69,297.28 Z" fill="#ffffff"/>
<rect x="195.6" y="101.2" width="13" height="40" rx="6.5" fill="#fff" stroke="#76787a" stroke-width="1.2"/>
<circle cx="176.6" cy="105.3" r="7.2" fill="#fff" stroke="#76787a" stroke-width="1.2"/><circle cx="128.7" cy="189.8" r="7.2" fill="#fff" stroke="#76787a" stroke-width="1.2"/><circle cx="112.8" cy="214.8" r="9.0" fill="#fff" stroke="#76787a" stroke-width="1.2"/><circle cx="112.7" cy="252.1" r="7.1" fill="#fff" stroke="#76787a" stroke-width="1.2"/><circle cx="275.9" cy="190.4" r="7.3" fill="#fff" stroke="#76787a" stroke-width="1.2"/><circle cx="291.2" cy="215.9" r="9.2" fill="#fff" stroke="#76787a" stroke-width="1.2"/><circle cx="292.7" cy="252.1" r="7.0" fill="#fff" stroke="#76787a" stroke-width="1.2"/><circle cx="173.7" cy="326.9" r="7.4" fill="#fff" stroke="#76787a" stroke-width="1.2"/><circle cx="209.7" cy="333.4" r="9.4" fill="#fff" stroke="#76787a" stroke-width="1.2"/><circle cx="240.4" cy="322.3" r="7.6" fill="#fff" stroke="#76787a" stroke-width="1.2"/><circle cx="170.8" cy="363.5" r="7.4" fill="#fff" stroke="#76787a" stroke-width="1.2"/>


<polygon points="126,71.5 147.3,64.6 192,184 169,191" fill="#2b2b2b" stroke="#2b2b2b" stroke-width="1" stroke-linejoin="round"/>
<polygon points="265.8,70.2 286.4,79.6 238.9,190 211.5,186" fill="#2b2b2b" stroke="#2b2b2b" stroke-width="1" stroke-linejoin="round"/>
<clipPath id="blkc"><ellipse cx="202.85" cy="249.4" rx="73.55" ry="70.1"/></clipPath>
<g clip-path="url(#blkc)"><path d="M203,250 L323.0,248.5 L322.6,259.8 Z" fill="rgb(28,28,28)"/><path d="M203,250 L322.8,256.9 L321.6,268.2 Z" fill="rgb(31,31,31)"/><path d="M203,250 L322.0,265.2 L320.1,276.4 Z" fill="rgb(34,34,34)"/><path d="M203,250 L320.7,273.5 L317.9,284.5 Z" fill="rgb(37,37,37)"/><path d="M203,250 L318.7,281.7 L315.3,292.4 Z" fill="rgb(40,40,40)"/><path d="M203,250 L316.3,289.7 L312.0,300.1 Z" fill="rgb(44,44,44)"/><path d="M203,250 L313.2,297.5 L308.3,307.6 Z" fill="rgb(47,47,47)"/><path d="M203,250 L309.6,305.0 L304.0,314.8 Z" fill="rgb(50,50,50)"/><path d="M203,250 L305.5,312.3 L299.2,321.7 Z" fill="rgb(46,46,46)"/><path d="M203,250 L300.9,319.3 L294.0,328.3 Z" fill="rgb(41,41,41)"/><path d="M203,250 L295.9,326.0 L288.3,334.4 Z" fill="rgb(37,37,37)"/><path d="M203,250 L290.3,332.3 L282.2,340.2 Z" fill="rgb(32,32,32)"/><path d="M203,250 L284.4,338.2 L275.7,345.5 Z" fill="rgb(28,28,28)"/><path d="M203,250 L278.0,343.7 L268.9,350.3 Z" fill="rgb(28,28,28)"/><path d="M203,250 L271.3,348.7 L261.7,354.6 Z" fill="rgb(28,28,28)"/><path d="M203,250 L264.3,353.2 L254.3,358.5 Z" fill="rgb(28,28,28)"/><path d="M203,250 L256.9,357.2 L246.6,361.8 Z" fill="rgb(28,28,28)"/><path d="M203,250 L249.3,360.7 L238.7,364.6 Z" fill="rgb(28,28,28)"/><path d="M203,250 L241.5,363.7 L230.6,366.8 Z" fill="rgb(28,28,28)"/><path d="M203,250 L233.5,366.1 L222.4,368.4 Z" fill="rgb(28,28,28)"/><path d="M203,250 L225.3,367.9 L214.1,369.5 Z" fill="rgb(30,30,30)"/><path d="M203,250 L217.0,369.2 L205.7,370.0 Z" fill="rgb(34,34,34)"/><path d="M203,250 L208.7,369.9 L197.3,369.9 Z" fill="rgb(38,38,38)"/><path d="M203,250 L200.3,370.0 L189.0,369.2 Z" fill="rgb(42,42,42)"/><path d="M203,250 L191.9,369.5 L180.7,367.9 Z" fill="rgb(46,46,46)"/><path d="M203,250 L183.6,368.4 L172.5,366.1 Z" fill="rgb(46,46,46)"/><path d="M203,250 L175.4,366.8 L164.5,363.7 Z" fill="rgb(41,41,41)"/><path d="M203,250 L167.3,364.6 L156.7,360.7 Z" fill="rgb(37,37,37)"/><path d="M203,250 L159.4,361.8 L149.1,357.2 Z" fill="rgb(33,33,33)"/><path d="M203,250 L151.7,358.5 L141.7,353.2 Z" fill="rgb(28,28,28)"/><path d="M203,250 L144.3,354.6 L134.7,348.7 Z" fill="rgb(27,27,27)"/><path d="M203,250 L137.1,350.3 L128.0,343.7 Z" fill="rgb(30,30,30)"/><path d="M203,250 L130.3,345.5 L121.6,338.2 Z" fill="rgb(33,33,33)"/><path d="M203,250 L123.8,340.2 L115.7,332.3 Z" fill="rgb(36,36,36)"/><path d="M203,250 L117.7,334.4 L110.1,326.0 Z" fill="rgb(39,39,39)"/><path d="M203,250 L112.0,328.3 L105.1,319.3 Z" fill="rgb(41,41,41)"/><path d="M203,250 L106.8,321.7 L100.5,312.3 Z" fill="rgb(44,44,44)"/><path d="M203,250 L102.0,314.8 L96.4,305.0 Z" fill="rgb(47,47,47)"/><path d="M203,250 L97.7,307.6 L92.8,297.5 Z" fill="rgb(50,50,50)"/><path d="M203,250 L94.0,300.1 L89.7,289.7 Z" fill="rgb(53,53,53)"/><path d="M203,250 L90.7,292.4 L87.3,281.7 Z" fill="rgb(52,52,52)"/><path d="M203,250 L88.1,284.5 L85.3,273.5 Z" fill="rgb(47,47,47)"/><path d="M203,250 L85.9,276.4 L84.0,265.2 Z" fill="rgb(43,43,43)"/><path d="M203,250 L84.4,268.2 L83.2,256.9 Z" fill="rgb(38,38,38)"/><path d="M203,250 L83.4,259.8 L83.0,248.5 Z" fill="rgb(34,34,34)"/><path d="M203,250 L83.0,251.5 L83.4,240.2 Z" fill="rgb(29,29,29)"/><path d="M203,250 L83.2,243.1 L84.4,231.8 Z" fill="rgb(26,26,26)"/><path d="M203,250 L84.0,234.8 L85.9,223.6 Z" fill="rgb(28,28,28)"/><path d="M203,250 L85.3,226.5 L88.1,215.5 Z" fill="rgb(30,30,30)"/><path d="M203,250 L87.3,218.3 L90.7,207.6 Z" fill="rgb(32,32,32)"/><path d="M203,250 L89.7,210.3 L94.0,199.9 Z" fill="rgb(34,34,34)"/><path d="M203,250 L92.8,202.5 L97.7,192.4 Z" fill="rgb(36,36,36)"/><path d="M203,250 L96.4,195.0 L102.0,185.2 Z" fill="rgb(38,38,38)"/><path d="M203,250 L100.5,187.7 L106.8,178.3 Z" fill="rgb(40,40,40)"/><path d="M203,250 L105.1,180.7 L112.0,171.7 Z" fill="rgb(42,42,42)"/><path d="M203,250 L110.1,174.0 L117.7,165.6 Z" fill="rgb(44,44,44)"/><path d="M203,250 L115.7,167.7 L123.8,159.8 Z" fill="rgb(45,45,45)"/><path d="M203,250 L121.6,161.8 L130.3,154.5 Z" fill="rgb(42,42,42)"/><path d="M203,250 L128.0,156.3 L137.1,149.7 Z" fill="rgb(38,38,38)"/><path d="M203,250 L134.7,151.3 L144.3,145.4 Z" fill="rgb(35,35,35)"/><path d="M203,250 L141.7,146.8 L151.7,141.5 Z" fill="rgb(31,31,31)"/><path d="M203,250 L149.1,142.8 L159.4,138.2 Z" fill="rgb(28,28,28)"/><path d="M203,250 L156.7,139.3 L167.3,135.4 Z" fill="rgb(24,24,24)"/><path d="M203,250 L164.5,136.3 L175.4,133.2 Z" fill="rgb(24,24,24)"/><path d="M203,250 L172.5,133.9 L183.6,131.6 Z" fill="rgb(23,23,23)"/><path d="M203,250 L180.7,132.1 L191.9,130.5 Z" fill="rgb(23,23,23)"/><path d="M203,250 L189.0,130.8 L200.3,130.0 Z" fill="rgb(23,23,23)"/><path d="M203,250 L197.3,130.1 L208.7,130.1 Z" fill="rgb(22,22,22)"/><path d="M203,250 L205.7,130.0 L217.0,130.8 Z" fill="rgb(22,22,22)"/><path d="M203,250 L214.1,130.5 L225.3,132.1 Z" fill="rgb(24,24,24)"/><path d="M203,250 L222.4,131.6 L233.5,133.9 Z" fill="rgb(27,27,27)"/><path d="M203,250 L230.6,133.2 L241.5,136.3 Z" fill="rgb(30,30,30)"/><path d="M203,250 L238.7,135.4 L249.3,139.3 Z" fill="rgb(33,33,33)"/><path d="M203,250 L246.6,138.2 L256.9,142.8 Z" fill="rgb(36,36,36)"/><path d="M203,250 L254.3,141.5 L264.3,146.8 Z" fill="rgb(39,39,39)"/><path d="M203,250 L261.7,145.4 L271.3,151.3 Z" fill="rgb(39,39,39)"/><path d="M203,250 L268.9,149.7 L278.0,156.3 Z" fill="rgb(36,36,36)"/><path d="M203,250 L275.7,154.5 L284.4,161.8 Z" fill="rgb(34,34,34)"/><path d="M203,250 L282.2,159.8 L290.3,167.7 Z" fill="rgb(31,31,31)"/><path d="M203,250 L288.3,165.6 L295.9,174.0 Z" fill="rgb(28,28,28)"/><path d="M203,250 L294.0,171.7 L300.9,180.7 Z" fill="rgb(26,26,26)"/><path d="M203,250 L299.2,178.3 L305.5,187.7 Z" fill="rgb(24,24,24)"/><path d="M203,250 L304.0,185.2 L309.6,195.0 Z" fill="rgb(24,24,24)"/><path d="M203,250 L308.3,192.4 L313.2,202.5 Z" fill="rgb(25,25,25)"/><path d="M203,250 L312.0,199.9 L316.3,210.3 Z" fill="rgb(25,25,25)"/><path d="M203,250 L315.3,207.6 L318.7,218.3 Z" fill="rgb(25,25,25)"/><path d="M203,250 L317.9,215.5 L320.7,226.5 Z" fill="rgb(25,25,25)"/><path d="M203,250 L320.1,223.6 L322.0,234.8 Z" fill="rgb(25,25,25)"/><path d="M203,250 L321.6,231.8 L322.8,243.1 Z" fill="rgb(26,26,26)"/><path d="M203,250 L322.6,240.2 L323.0,251.5 Z" fill="rgb(26,26,26)"/></g>
<rect x="195.5" y="128.4" width="13.1" height="75" rx="6.5" ry="5" fill="url(#rod)"/>
<clipPath id="silc"><ellipse cx="202.45" cy="250.95" rx="53.75" ry="53.05"/></clipPath>
<g clip-path="url(#silc)"><path d="M203,250 L293.0,248.9 L292.7,257.4 Z" fill="rgb(171,171,171)"/><path d="M203,250 L292.9,255.2 L292.0,263.6 Z" fill="rgb(174,174,174)"/><path d="M203,250 L292.3,261.4 L290.8,269.8 Z" fill="rgb(177,177,177)"/><path d="M203,250 L291.3,267.6 L289.2,275.9 Z" fill="rgb(179,179,179)"/><path d="M203,250 L289.8,273.7 L287.2,281.8 Z" fill="rgb(182,182,182)"/><path d="M203,250 L287.9,279.7 L284.8,287.6 Z" fill="rgb(185,185,185)"/><path d="M203,250 L285.7,285.6 L281.9,293.2 Z" fill="rgb(187,187,187)"/><path d="M203,250 L283.0,291.3 L278.7,298.6 Z" fill="rgb(190,190,190)"/><path d="M203,250 L279.9,296.8 L275.2,303.8 Z" fill="rgb(195,195,195)"/><path d="M203,250 L276.5,302.0 L271.2,308.7 Z" fill="rgb(200,200,200)"/><path d="M203,250 L272.6,307.0 L267.0,313.3 Z" fill="rgb(204,204,204)"/><path d="M203,250 L268.5,311.7 L262.4,317.6 Z" fill="rgb(208,208,208)"/><path d="M203,250 L264.0,316.1 L257.5,321.6 Z" fill="rgb(206,206,206)"/><path d="M203,250 L259.3,320.2 L252.4,325.2 Z" fill="rgb(204,204,204)"/><path d="M203,250 L254.2,324.0 L247.0,328.5 Z" fill="rgb(202,202,202)"/><path d="M203,250 L248.9,327.4 L241.5,331.4 Z" fill="rgb(200,200,200)"/><path d="M203,250 L243.4,330.4 L235.7,333.9 Z" fill="rgb(198,198,198)"/><path d="M203,250 L237.7,333.0 L229.8,335.9 Z" fill="rgb(196,196,196)"/><path d="M203,250 L231.9,335.2 L223.7,337.6 Z" fill="rgb(196,196,196)"/><path d="M203,250 L225.8,337.1 L217.5,338.8 Z" fill="rgb(196,196,196)"/><path d="M203,250 L219.7,338.4 L211.3,339.6 Z" fill="rgb(196,196,196)"/><path d="M203,250 L213.5,339.4 L205.0,340.0 Z" fill="rgb(196,196,196)"/><path d="M203,250 L207.2,339.9 L198.8,339.9 Z" fill="rgb(196,196,196)"/><path d="M203,250 L201.0,340.0 L192.5,339.4 Z" fill="rgb(195,195,195)"/><path d="M203,250 L194.7,339.6 L186.3,338.4 Z" fill="rgb(194,194,194)"/><path d="M203,250 L188.5,338.8 L180.2,337.1 Z" fill="rgb(194,194,194)"/><path d="M203,250 L182.3,337.6 L174.1,335.2 Z" fill="rgb(193,193,193)"/><path d="M203,250 L176.2,335.9 L168.3,333.0 Z" fill="rgb(192,192,192)"/><path d="M203,250 L170.3,333.9 L162.6,330.4 Z" fill="rgb(191,191,191)"/><path d="M203,250 L164.5,331.4 L157.1,327.4 Z" fill="rgb(190,190,190)"/><path d="M203,250 L159.0,328.5 L151.8,324.0 Z" fill="rgb(189,189,189)"/><path d="M203,250 L153.6,325.2 L146.7,320.2 Z" fill="rgb(186,186,186)"/><path d="M203,250 L148.5,321.6 L142.0,316.1 Z" fill="rgb(183,183,183)"/><path d="M203,250 L143.6,317.6 L137.5,311.7 Z" fill="rgb(181,181,181)"/><path d="M203,250 L139.0,313.3 L133.4,307.0 Z" fill="rgb(178,178,178)"/><path d="M203,250 L134.8,308.7 L129.5,302.0 Z" fill="rgb(175,175,175)"/><path d="M203,250 L130.8,303.8 L126.1,296.8 Z" fill="rgb(173,173,173)"/><path d="M203,250 L127.3,298.6 L123.0,291.3 Z" fill="rgb(170,170,170)"/><path d="M203,250 L124.1,293.2 L120.3,285.6 Z" fill="rgb(169,169,169)"/><path d="M203,250 L121.2,287.6 L118.1,279.7 Z" fill="rgb(167,167,167)"/><path d="M203,250 L118.8,281.8 L116.2,273.7 Z" fill="rgb(166,166,166)"/><path d="M203,250 L116.8,275.9 L114.7,267.6 Z" fill="rgb(165,165,165)"/><path d="M203,250 L115.2,269.8 L113.7,261.4 Z" fill="rgb(163,163,163)"/><path d="M203,250 L114.0,263.6 L113.1,255.2 Z" fill="rgb(162,162,162)"/><path d="M203,250 L113.3,257.4 L113.0,248.9 Z" fill="rgb(161,161,161)"/><path d="M203,250 L113.0,251.1 L113.3,242.6 Z" fill="rgb(162,162,162)"/><path d="M203,250 L113.1,244.8 L114.0,236.4 Z" fill="rgb(165,165,165)"/><path d="M203,250 L113.7,238.6 L115.2,230.2 Z" fill="rgb(169,169,169)"/><path d="M203,250 L114.7,232.4 L116.8,224.1 Z" fill="rgb(172,172,172)"/><path d="M203,250 L116.2,226.3 L118.8,218.2 Z" fill="rgb(176,176,176)"/><path d="M203,250 L118.1,220.3 L121.2,212.4 Z" fill="rgb(179,179,179)"/><path d="M203,250 L120.3,214.4 L124.1,206.8 Z" fill="rgb(183,183,183)"/><path d="M203,250 L123.0,208.7 L127.3,201.4 Z" fill="rgb(186,186,186)"/><path d="M203,250 L126.1,203.2 L130.8,196.2 Z" fill="rgb(189,189,189)"/><path d="M203,250 L129.5,198.0 L134.8,191.3 Z" fill="rgb(191,191,191)"/><path d="M203,250 L133.4,193.0 L139.0,186.7 Z" fill="rgb(194,194,194)"/><path d="M203,250 L137.5,188.3 L143.6,182.4 Z" fill="rgb(197,197,197)"/><path d="M203,250 L142.0,183.9 L148.5,178.4 Z" fill="rgb(199,199,199)"/><path d="M203,250 L146.7,179.8 L153.6,174.8 Z" fill="rgb(202,202,202)"/><path d="M203,250 L151.8,176.0 L159.0,171.5 Z" fill="rgb(205,205,205)"/><path d="M203,250 L157.1,172.6 L164.5,168.6 Z" fill="rgb(205,205,205)"/><path d="M203,250 L162.6,169.6 L170.3,166.1 Z" fill="rgb(204,204,204)"/><path d="M203,250 L168.3,167.0 L176.2,164.1 Z" fill="rgb(203,203,203)"/><path d="M203,250 L174.1,164.8 L182.3,162.4 Z" fill="rgb(201,201,201)"/><path d="M203,250 L180.2,162.9 L188.5,161.2 Z" fill="rgb(200,200,200)"/><path d="M203,250 L186.3,161.6 L194.7,160.4 Z" fill="rgb(199,199,199)"/><path d="M203,250 L192.5,160.6 L201.0,160.0 Z" fill="rgb(197,197,197)"/><path d="M203,250 L198.8,160.1 L207.2,160.1 Z" fill="rgb(196,196,196)"/><path d="M203,250 L205.0,160.0 L213.5,160.6 Z" fill="rgb(195,195,195)"/><path d="M203,250 L211.3,160.4 L219.7,161.6 Z" fill="rgb(194,194,194)"/><path d="M203,250 L217.5,161.2 L225.8,162.9 Z" fill="rgb(193,193,193)"/><path d="M203,250 L223.7,162.4 L231.9,164.8 Z" fill="rgb(192,192,192)"/><path d="M203,250 L229.8,164.1 L237.7,167.0 Z" fill="rgb(191,191,191)"/><path d="M203,250 L235.7,166.1 L243.4,169.6 Z" fill="rgb(190,190,190)"/><path d="M203,250 L241.5,168.6 L248.9,172.6 Z" fill="rgb(189,189,189)"/><path d="M203,250 L247.0,171.5 L254.2,176.0 Z" fill="rgb(187,187,187)"/><path d="M203,250 L252.4,174.8 L259.3,179.8 Z" fill="rgb(186,186,186)"/><path d="M203,250 L257.5,178.4 L264.0,183.9 Z" fill="rgb(185,185,185)"/><path d="M203,250 L262.4,182.4 L268.5,188.3 Z" fill="rgb(183,183,183)"/><path d="M203,250 L267.0,186.7 L272.6,193.0 Z" fill="rgb(182,182,182)"/><path d="M203,250 L271.2,191.3 L276.5,198.0 Z" fill="rgb(181,181,181)"/><path d="M203,250 L275.2,196.2 L279.9,203.2 Z" fill="rgb(179,179,179)"/><path d="M203,250 L278.7,201.4 L283.0,208.7 Z" fill="rgb(178,178,178)"/><path d="M203,250 L281.9,206.8 L285.7,214.4 Z" fill="rgb(177,177,177)"/><path d="M203,250 L284.8,212.4 L287.9,220.3 Z" fill="rgb(176,176,176)"/><path d="M203,250 L287.2,218.2 L289.8,226.3 Z" fill="rgb(175,175,175)"/><path d="M203,250 L289.2,224.1 L291.3,232.4 Z" fill="rgb(174,174,174)"/><path d="M203,250 L290.8,230.2 L292.3,238.6 Z" fill="rgb(173,173,173)"/><path d="M203,250 L292.0,236.4 L292.9,244.8 Z" fill="rgb(172,172,172)"/><path d="M203,250 L292.7,242.6 L293.0,251.1 Z" fill="rgb(171,171,171)"/></g>
<ellipse cx="202.45" cy="250.95" rx="53.75" ry="53.05" fill="none" stroke="#5a5a5a" stroke-width="1.2"/>
<clipPath id="crsc"><ellipse cx="203" cy="249.2" rx="38.5" ry="39"/></clipPath>
<g clip-path="url(#crsc)"><path d="M205,244 L275.0,243.1 L274.8,249.7 Z" fill="rgb(34,34,34)"/><path d="M205,244 L274.9,248.0 L274.2,254.6 Z" fill="rgb(33,33,33)"/><path d="M205,244 L274.4,252.9 L273.3,259.4 Z" fill="rgb(33,33,33)"/><path d="M205,244 L273.6,257.7 L272.0,264.1 Z" fill="rgb(32,32,32)"/><path d="M205,244 L272.5,262.5 L270.5,268.7 Z" fill="rgb(32,32,32)"/><path d="M205,244 L271.1,267.1 L268.6,273.3 Z" fill="rgb(31,31,31)"/><path d="M205,244 L269.3,271.7 L266.4,277.6 Z" fill="rgb(31,31,31)"/><path d="M205,244 L267.2,276.1 L263.9,281.8 Z" fill="rgb(30,30,30)"/><path d="M205,244 L264.8,280.4 L261.1,285.8 Z" fill="rgb(29,29,29)"/><path d="M205,244 L262.1,284.5 L258.1,289.6 Z" fill="rgb(29,29,29)"/><path d="M205,244 L259.2,288.3 L254.8,293.2 Z" fill="rgb(28,28,28)"/><path d="M205,244 L255.9,292.0 L251.2,296.6 Z" fill="rgb(28,28,28)"/><path d="M205,244 L252.5,295.4 L247.4,299.7 Z" fill="rgb(28,28,28)"/><path d="M205,244 L248.8,298.6 L243.4,302.5 Z" fill="rgb(27,27,27)"/><path d="M205,244 L244.8,301.6 L239.3,305.0 Z" fill="rgb(27,27,27)"/><path d="M205,244 L240.7,304.2 L234.9,307.3 Z" fill="rgb(26,26,26)"/><path d="M205,244 L236.5,306.5 L230.4,309.2 Z" fill="rgb(26,26,26)"/><path d="M205,244 L232.0,308.6 L225.8,310.8 Z" fill="rgb(26,26,26)"/><path d="M205,244 L227.4,310.3 L221.1,312.1 Z" fill="rgb(25,25,25)"/><path d="M205,244 L222.8,311.7 L216.3,313.1 Z" fill="rgb(25,25,25)"/><path d="M205,244 L218.0,312.8 L211.5,313.7 Z" fill="rgb(25,25,25)"/><path d="M205,244 L213.2,313.5 L206.6,314.0 Z" fill="rgb(24,24,24)"/><path d="M205,244 L208.3,313.9 L201.7,313.9 Z" fill="rgb(24,24,24)"/><path d="M205,244 L203.4,314.0 L196.8,313.5 Z" fill="rgb(26,26,26)"/><path d="M205,244 L198.5,313.7 L192.0,312.8 Z" fill="rgb(28,28,28)"/><path d="M205,244 L193.7,313.1 L187.2,311.7 Z" fill="rgb(29,29,29)"/><path d="M205,244 L188.9,312.1 L182.6,310.3 Z" fill="rgb(31,31,31)"/><path d="M205,244 L184.2,310.8 L178.0,308.6 Z" fill="rgb(33,33,33)"/><path d="M205,244 L179.6,309.2 L173.5,306.5 Z" fill="rgb(35,35,35)"/><path d="M205,244 L175.1,307.3 L169.3,304.2 Z" fill="rgb(36,36,36)"/><path d="M205,244 L170.7,305.0 L165.2,301.6 Z" fill="rgb(38,38,38)"/><path d="M205,244 L166.6,302.5 L161.2,298.6 Z" fill="rgb(40,40,40)"/><path d="M205,244 L162.6,299.7 L157.5,295.4 Z" fill="rgb(42,42,42)"/><path d="M205,244 L158.8,296.6 L154.1,292.0 Z" fill="rgb(44,44,44)"/><path d="M205,244 L155.2,293.2 L150.8,288.3 Z" fill="rgb(42,42,42)"/><path d="M205,244 L151.9,289.6 L147.9,284.5 Z" fill="rgb(40,40,40)"/><path d="M205,244 L148.9,285.8 L145.2,280.4 Z" fill="rgb(38,38,38)"/><path d="M205,244 L146.1,281.8 L142.8,276.1 Z" fill="rgb(36,36,36)"/><path d="M205,244 L143.6,277.6 L140.7,271.7 Z" fill="rgb(33,33,33)"/><path d="M205,244 L141.4,273.3 L138.9,267.1 Z" fill="rgb(31,31,31)"/><path d="M205,244 L139.5,268.7 L137.5,262.5 Z" fill="rgb(29,29,29)"/><path d="M205,244 L138.0,264.1 L136.4,257.7 Z" fill="rgb(28,28,28)"/><path d="M205,244 L136.7,259.4 L135.6,252.9 Z" fill="rgb(27,27,27)"/><path d="M205,244 L135.8,254.6 L135.1,248.0 Z" fill="rgb(26,26,26)"/><path d="M205,244 L135.2,249.7 L135.0,243.1 Z" fill="rgb(25,25,25)"/><path d="M205,244 L135.0,244.9 L135.2,238.3 Z" fill="rgb(25,25,25)"/><path d="M205,244 L135.1,240.0 L135.8,233.4 Z" fill="rgb(26,26,26)"/><path d="M205,244 L135.6,235.1 L136.7,228.6 Z" fill="rgb(27,27,27)"/><path d="M205,244 L136.4,230.3 L138.0,223.9 Z" fill="rgb(28,28,28)"/><path d="M205,244 L137.5,225.5 L139.5,219.3 Z" fill="rgb(29,29,29)"/><path d="M205,244 L138.9,220.9 L141.4,214.7 Z" fill="rgb(30,30,30)"/><path d="M205,244 L140.7,216.3 L143.6,210.4 Z" fill="rgb(31,31,31)"/><path d="M205,244 L142.8,211.9 L146.1,206.2 Z" fill="rgb(32,32,32)"/><path d="M205,244 L145.2,207.6 L148.9,202.2 Z" fill="rgb(33,33,33)"/><path d="M205,244 L147.9,203.5 L151.9,198.4 Z" fill="rgb(34,34,34)"/><path d="M205,244 L150.8,199.7 L155.2,194.8 Z" fill="rgb(35,35,35)"/><path d="M205,244 L154.1,196.0 L158.8,191.4 Z" fill="rgb(36,36,36)"/><path d="M205,244 L157.5,192.6 L162.6,188.3 Z" fill="rgb(37,37,37)"/><path d="M205,244 L161.2,189.4 L166.6,185.5 Z" fill="rgb(38,38,38)"/><path d="M205,244 L165.2,186.4 L170.7,183.0 Z" fill="rgb(38,38,38)"/><path d="M205,244 L169.3,183.8 L175.1,180.7 Z" fill="rgb(39,39,39)"/><path d="M205,244 L173.5,181.5 L179.6,178.8 Z" fill="rgb(40,40,40)"/><path d="M205,244 L178.0,179.4 L184.2,177.2 Z" fill="rgb(40,40,40)"/><path d="M205,244 L182.6,177.7 L188.9,175.9 Z" fill="rgb(41,41,41)"/><path d="M205,244 L187.2,176.3 L193.7,174.9 Z" fill="rgb(42,42,42)"/><path d="M205,244 L192.0,175.2 L198.5,174.3 Z" fill="rgb(43,43,43)"/><path d="M205,244 L196.8,174.5 L203.4,174.0 Z" fill="rgb(43,43,43)"/><path d="M205,244 L201.7,174.1 L208.3,174.1 Z" fill="rgb(44,44,44)"/><path d="M205,244 L206.6,174.0 L213.2,174.5 Z" fill="rgb(44,44,44)"/><path d="M205,244 L211.5,174.3 L218.0,175.2 Z" fill="rgb(43,43,43)"/><path d="M205,244 L216.3,174.9 L222.8,176.3 Z" fill="rgb(43,43,43)"/><path d="M205,244 L221.1,175.9 L227.4,177.7 Z" fill="rgb(43,43,43)"/><path d="M205,244 L225.8,177.2 L232.0,179.4 Z" fill="rgb(42,42,42)"/><path d="M205,244 L230.4,178.8 L236.5,181.5 Z" fill="rgb(42,42,42)"/><path d="M205,244 L234.9,180.7 L240.7,183.8 Z" fill="rgb(42,42,42)"/><path d="M205,244 L239.3,183.0 L244.8,186.4 Z" fill="rgb(41,41,41)"/><path d="M205,244 L243.4,185.5 L248.8,189.4 Z" fill="rgb(41,41,41)"/><path d="M205,244 L247.4,188.3 L252.5,192.6 Z" fill="rgb(40,40,40)"/><path d="M205,244 L251.2,191.4 L255.9,196.0 Z" fill="rgb(40,40,40)"/><path d="M205,244 L254.8,194.8 L259.2,199.7 Z" fill="rgb(40,40,40)"/><path d="M205,244 L258.1,198.4 L262.1,203.5 Z" fill="rgb(39,39,39)"/><path d="M205,244 L261.1,202.2 L264.8,207.6 Z" fill="rgb(39,39,39)"/><path d="M205,244 L263.9,206.2 L267.2,211.9 Z" fill="rgb(38,38,38)"/><path d="M205,244 L266.4,210.4 L269.3,216.3 Z" fill="rgb(37,37,37)"/><path d="M205,244 L268.6,214.7 L271.1,220.9 Z" fill="rgb(37,37,37)"/><path d="M205,244 L270.5,219.3 L272.5,225.5 Z" fill="rgb(36,36,36)"/><path d="M205,244 L272.0,223.9 L273.6,230.3 Z" fill="rgb(36,36,36)"/><path d="M205,244 L273.3,228.6 L274.4,235.1 Z" fill="rgb(35,35,35)"/><path d="M205,244 L274.2,233.4 L274.9,240.0 Z" fill="rgb(35,35,35)"/><path d="M205,244 L274.8,238.3 L275.0,244.9 Z" fill="rgb(34,34,34)"/></g>
<ellipse cx="203" cy="249.2" rx="38.5" ry="39" fill="none" stroke="#4a4a4a" stroke-width="1.1"/>
<circle cx="205.6" cy="243.8" r="32" fill="url(#wd)" stroke="#7a7a7a" stroke-width="0.8"/>
<line x1="176.4" y1="243.7" x2="233.6" y2="243.7" stroke="#6a6a6a" stroke-width="1.8"/>
<line x1="205.2" y1="216.4" x2="205.2" y2="271.1" stroke="#6a6a6a" stroke-width="1.8"/>
<polygon points="140.56,92.72 164.14,156.92 154.57,160.44 177.80,179.60 183.10,149.95 173.53,153.47 149.94,89.28" fill="url(#gl)"/>
<polygon points="242.50,159.72 269.48,100.40 277.58,104.08 275.40,75.30 252.27,92.58 260.38,96.26 233.40,155.58" fill="url(#gr)"/>


<line x1="487" y1="165.9" x2="945.7" y2="165.9" stroke="#8a8a8a" stroke-width="1.7"/>
<line x1="649" y1="60" x2="649" y2="386" stroke="#8c8c8c" stroke-width="2.2" stroke-dasharray="9.6 6.33" stroke-dashoffset="4.13"/>
<line x1="854.7" y1="60" x2="854.7" y2="386" stroke="#8c8c8c" stroke-width="2.2" stroke-dasharray="9.6 6.33" stroke-dashoffset="4.13"/>
<path d="M506.40,317.98 L506.50,318.01 L506.60,318.05 L506.70,318.08 L506.80,318.11 L506.90,318.14 L507.00,318.18 L507.10,318.21 L507.20,318.24 L507.30,318.27 L507.40,318.31 L507.50,318.34 L507.60,318.37 L507.70,318.40 L507.80,318.44 L507.90,318.47 L508.00,318.50 L508.10,318.53 L508.20,318.57 L508.30,318.60 L508.40,318.63 L508.50,318.66 L508.60,318.70 L508.70,318.73 L508.80,318.76 L508.90,318.79 L509.00,318.83 L509.10,318.86 L509.20,318.89 L509.30,318.92 L509.40,318.96 L509.50,318.99 L509.60,319.02 L509.70,319.05 L509.80,319.09 L509.90,319.12 L510.00,319.15 L510.10,319.18 L510.20,319.21 L510.30,319.25 L510.40,319.28 L510.50,319.31 L510.60,319.34 L510.70,319.37 L510.80,319.41 L510.90,319.44 L511.00,319.47 L511.10,319.50 L511.20,319.53 L511.30,319.57 L511.40,319.60 L511.50,319.63 L511.60,319.66 L511.70,319.69 L511.80,319.72 L511.90,319.75 L512.00,319.79 L512.10,319.82 L512.20,319.85 L512.30,319.88 L512.40,319.91 L512.50,319.94 L512.60,319.97 L512.70,320.00 L512.80,320.03 L512.90,320.06 L513.00,320.10 L513.10,320.13 L513.20,320.16 L513.30,320.19 L513.40,320.22 L513.50,320.25 L513.60,320.28 L513.70,320.31 L513.80,320.34 L513.90,320.37 L514.00,320.40 L514.10,320.43 L514.20,320.46 L514.30,320.49 L514.40,320.52 L514.50,320.55 L514.60,320.58 L514.70,320.61 L514.80,320.65 L514.90,320.68 L515.00,320.71 L515.10,320.74 L515.20,320.77 L515.30,320.80 L515.40,320.83 L515.50,320.86 L515.60,320.89 L515.70,320.92 L515.80,320.95 L515.90,320.98 L516.00,321.01 L516.10,321.04 L516.20,321.07 L516.30,321.10 L516.40,321.13 L516.50,321.16 L516.60,321.19 L516.60,321.19 M525.40,323.69 L525.50,323.72 L525.60,323.75 L525.70,323.78 L525.80,323.80 L525.90,323.83 L526.00,323.86 L526.10,323.88 L526.20,323.91 L526.30,323.94 L526.40,323.97 L526.50,323.99 L526.60,324.02 L526.70,324.05 L526.80,324.07 L526.90,324.10 L527.00,324.13 L527.10,324.16 L527.20,324.18 L527.30,324.21 L527.40,324.24 L527.50,324.26 L527.60,324.29 L527.70,324.32 L527.80,324.34 L527.90,324.37 L528.00,324.40 L528.10,324.42 L528.20,324.45 L528.30,324.48 L528.40,324.50 L528.50,324.53 L528.60,324.56 L528.70,324.58 L528.80,324.61 L528.90,324.64 L529.00,324.66 L529.10,324.69 L529.20,324.72 L529.30,324.74 L529.40,324.77 L529.50,324.79 L529.60,324.82 L529.70,324.85 L529.80,324.87 L529.90,324.90 L530.00,324.93 L530.10,324.95 L530.20,324.98 L530.30,325.00 L530.40,325.03 L530.50,325.06 L530.60,325.08 L530.70,325.11 L530.80,325.13 L530.90,325.16 L531.00,325.19 L531.10,325.21 L531.20,325.24 L531.30,325.26 L531.40,325.29 L531.50,325.31 L531.60,325.34 L531.70,325.37 L531.80,325.39 L531.90,325.42 L532.00,325.44 L532.10,325.47 L532.20,325.50 L532.30,325.52 L532.40,325.55 L532.50,325.57 L532.60,325.60 L532.70,325.62 L532.80,325.65 L532.90,325.67 L533.00,325.70 L533.10,325.73 L533.20,325.75 L533.30,325.78 L533.40,325.80 L533.50,325.83 L533.60,325.85 L533.70,325.88 L533.80,325.90 L533.90,325.93 L534.00,325.95 L534.10,325.98 L534.20,326.00 L534.20,326.00 M543.90,328.35 L544.00,328.37 L544.10,328.40 L544.20,328.42 L544.30,328.44 L544.40,328.47 L544.50,328.49 L544.60,328.51 L544.70,328.54 L544.80,328.56 L544.90,328.58 L545.00,328.61 L545.10,328.63 L545.20,328.65 L545.30,328.67 L545.40,328.70 L545.50,328.72 L545.60,328.74 L545.70,328.77 L545.80,328.79 L545.90,328.81 L546.00,328.84 L546.10,328.86 L546.20,328.88 L546.30,328.90 L546.40,328.93 L546.50,328.95 L546.60,328.97 L546.70,329.00 L546.80,329.02 L546.90,329.04 L547.00,329.06 L547.10,329.09 L547.20,329.11 L547.30,329.13 L547.40,329.15 L547.50,329.18 L547.60,329.20 L547.70,329.22 L547.80,329.24 L547.90,329.27 L548.00,329.29 L548.10,329.31 L548.20,329.33 L548.30,329.36 L548.40,329.38 L548.50,329.40 L548.60,329.43 L548.70,329.45 L548.80,329.47 L548.90,329.49 L549.00,329.52 L549.10,329.54 L549.20,329.56 L549.30,329.59 L549.40,329.61 L549.50,329.63 L549.60,329.65 L549.70,329.68 L549.80,329.70 L549.90,329.72 L550.00,329.74 L550.10,329.77 L550.20,329.79 L550.30,329.81 L550.40,329.83 L550.50,329.86 L550.60,329.88 L550.70,329.90 L550.80,329.92 L550.90,329.95 L551.00,329.97 L551.10,329.99 L551.20,330.01 L551.30,330.03 L551.40,330.06 L551.50,330.08 L551.60,330.10 L551.70,330.12 L551.80,330.14 L551.90,330.17 L552.00,330.19 L552.10,330.21 L552.20,330.23 L552.30,330.25 L552.40,330.28 L552.50,330.30 L552.60,330.32 L552.70,330.34 L552.80,330.36 L552.90,330.39 L553.00,330.41 L553.10,330.43 L553.20,330.45 L553.30,330.47 L553.40,330.49 L553.50,330.52 L553.60,330.54 M563.20,332.58 L563.30,332.60 L563.40,332.62 L563.50,332.64 L563.60,332.66 L563.70,332.68 L563.80,332.70 L563.90,332.72 L564.00,332.74 L564.10,332.76 L564.20,332.79 L564.30,332.81 L564.40,332.83 L564.50,332.85 L564.60,332.87 L564.70,332.89 L564.80,332.91 L564.90,332.93 L565.00,332.95 L565.10,332.97 L565.20,332.99 L565.30,333.01 L565.40,333.03 L565.50,333.05 L565.60,333.08 L565.70,333.10 L565.80,333.12 L565.90,333.14 L566.00,333.16 L566.10,333.18 L566.20,333.20 L566.30,333.22 L566.40,333.24 L566.50,333.26 L566.60,333.28 L566.70,333.30 L566.80,333.32 L566.90,333.34 L567.00,333.36 L567.10,333.38 L567.20,333.40 L567.30,333.42 L567.40,333.44 L567.50,333.47 L567.60,333.49 L567.70,333.51 L567.80,333.53 L567.90,333.55 L568.00,333.57 L568.10,333.59 L568.20,333.61 L568.30,333.63 L568.40,333.65 L568.50,333.67 L568.60,333.69 L568.70,333.71 L568.80,333.73 L568.90,333.75 L569.00,333.77 L569.10,333.79 L569.20,333.81 L569.30,333.83 L569.40,333.85 L569.50,333.87 L569.60,333.89 L569.70,333.91 L569.80,333.94 L569.90,333.96 L570.00,333.98 L570.10,334.00 L570.20,334.02 L570.30,334.04 L570.40,334.06 L570.50,334.08 L570.60,334.10 L570.70,334.12 L570.80,334.14 L570.90,334.16 L571.00,334.18 L571.10,334.20 L571.20,334.22 L571.30,334.24 L571.40,334.26 L571.50,334.28 L571.60,334.30 L571.70,334.32 L571.80,334.34 L571.90,334.36 L572.00,334.38 L572.10,334.40 L572.20,334.42 L572.30,334.44 L572.40,334.46 L572.50,334.48 L572.60,334.50 L572.70,334.52 L572.80,334.54 L572.90,334.56 M582.60,336.43 L582.70,336.45 L582.80,336.47 L582.90,336.49 L583.00,336.50 L583.10,336.52 L583.20,336.54 L583.30,336.56 L583.40,336.58 L583.50,336.60 L583.60,336.61 L583.70,336.63 L583.80,336.65 L583.90,336.67 L584.00,336.69 L584.10,336.71 L584.20,336.72 L584.30,336.74 L584.40,336.76 L584.50,336.78 L584.60,336.80 L584.70,336.81 L584.80,336.83 L584.90,336.85 L585.00,336.87 L585.10,336.89 L585.20,336.90 L585.30,336.92 L585.40,336.94 L585.50,336.96 L585.60,336.98 L585.70,336.99 L585.80,337.01 L585.90,337.03 L586.00,337.05 L586.10,337.07 L586.20,337.08 L586.30,337.10 L586.40,337.12 L586.50,337.14 L586.60,337.15 L586.70,337.17 L586.80,337.19 L586.90,337.21 L587.00,337.23 L587.10,337.24 L587.20,337.26 L587.30,337.28 L587.40,337.30 L587.50,337.31 L587.60,337.33 L587.70,337.35 L587.80,337.37 L587.90,337.38 L588.00,337.40 L588.10,337.42 L588.20,337.44 L588.30,337.45 L588.40,337.47 L588.50,337.49 L588.60,337.51 L588.70,337.52 L588.80,337.54 L588.90,337.56 L589.00,337.57 L589.10,337.59 L589.20,337.61 L589.30,337.63 L589.40,337.64 L589.50,337.66 L589.60,337.68 L589.70,337.69 L589.80,337.71 L589.90,337.73 L590.00,337.74 L590.10,337.76 L590.20,337.78 L590.30,337.79 L590.40,337.81 L590.50,337.83 L590.60,337.84 L590.70,337.86 L590.80,337.88 L590.90,337.89 L591.00,337.91 L591.10,337.93 L591.20,337.94 L591.30,337.96 L591.40,337.97 L591.50,337.99 L591.60,338.01 L591.70,338.02 L591.80,338.04 L591.90,338.06 L592.00,338.07 L592.10,338.09 L592.20,338.10 L592.20,338.10 M601.90,339.52 L602.00,339.54 L602.10,339.55 L602.20,339.56 L602.30,339.58 L602.40,339.59 L602.50,339.60 L602.60,339.61 L602.70,339.63 L602.80,339.64 L602.90,339.65 L603.00,339.66 L603.10,339.68 L603.20,339.69 L603.30,339.70 L603.40,339.71 L603.50,339.73 L603.60,339.74 L603.70,339.75 L603.80,339.76 L603.90,339.77 L604.00,339.79 L604.10,339.80 L604.20,339.81 L604.30,339.82 L604.40,339.83 L604.50,339.85 L604.60,339.86 L604.70,339.87 L604.80,339.88 L604.90,339.89 L605.00,339.90 L605.10,339.92 L605.20,339.93 L605.30,339.94 L605.40,339.95 L605.50,339.96 L605.60,339.97 L605.70,339.98 L605.80,340.00 L605.90,340.01 L606.00,340.02 L606.10,340.03 L606.20,340.04 L606.30,340.05 L606.40,340.06 L606.50,340.07 L606.60,340.09 L606.70,340.10 L606.80,340.11 L606.90,340.12 L607.00,340.13 L607.10,340.14 L607.20,340.15 L607.30,340.16 L607.40,340.17 L607.50,340.18 L607.60,340.19 L607.70,340.21 L607.80,340.22 L607.90,340.23 L608.00,340.24 L608.10,340.25 L608.20,340.26 L608.30,340.27 L608.40,340.28 L608.50,340.29 L608.60,340.30 L608.70,340.31 L608.80,340.32 L608.90,340.33 L609.00,340.34 L609.10,340.35 L609.20,340.36 L609.30,340.37 L609.40,340.38 L609.50,340.39 L609.60,340.40 L609.70,340.41 L609.80,340.42 L609.90,340.43 L610.00,340.44 L610.10,340.44 L610.20,340.45 L610.30,340.46 L610.40,340.47 L610.50,340.48 L610.60,340.49 L610.70,340.50 L610.80,340.51 L610.90,340.52 L611.00,340.53 L611.10,340.54 L611.20,340.55 L611.30,340.55 L611.40,340.56 L611.50,340.57 L611.60,340.58 M621.20,341.20 L621.30,341.20 L621.40,341.21 L621.50,341.21 L621.60,341.22 L621.70,341.22 L621.80,341.22 L621.90,341.23 L622.00,341.23 L622.10,341.23 L622.20,341.24 L622.30,341.24 L622.40,341.24 L622.50,341.25 L622.60,341.25 L622.70,341.25 L622.80,341.25 L622.90,341.26 L623.00,341.26 L623.10,341.26 L623.20,341.27 L623.30,341.27 L623.40,341.27 L623.50,341.27 L623.60,341.28 L623.70,341.28 L623.80,341.28 L623.90,341.28 L624.00,341.29 L624.10,341.29 L624.20,341.29 L624.30,341.29 L624.40,341.29 L624.50,341.30 L624.60,341.30 L624.70,341.30 L624.80,341.30 L624.90,341.30 L625.00,341.31 L625.10,341.31 L625.20,341.31 L625.30,341.31 L625.40,341.31 L625.50,341.31 L625.60,341.31 L625.70,341.31 L625.80,341.32 L625.90,341.32 L626.00,341.32 L626.10,341.32 L626.20,341.32 L626.30,341.32 L626.40,341.32 L626.50,341.32 L626.60,341.32 L626.70,341.32 L626.80,341.32 L626.90,341.32 L627.00,341.32 L627.10,341.33 L627.20,341.33 L627.30,341.33 L627.40,341.33 L627.50,341.33 L627.60,341.33 L627.70,341.33 L627.80,341.33 L627.90,341.33 L628.00,341.33 L628.10,341.33 L628.20,341.33 L628.30,341.33 L628.40,341.33 L628.50,341.33 L628.60,341.33 L628.70,341.33 L628.80,341.33 L628.90,341.32 L629.00,341.32 L629.10,341.32 L629.20,341.32 L629.30,341.32 L629.40,341.32 L629.50,341.32 L629.60,341.32 L629.70,341.32 L629.80,341.32 L629.90,341.32 L630.00,341.31 L630.10,341.31 L630.20,341.31 L630.30,341.31 L630.40,341.31 L630.50,341.31 L630.60,341.31 L630.70,341.31 L630.80,341.30 L630.90,341.30 M639.80,340.93 L639.90,340.92 L640.00,340.91 L640.10,340.91 L640.20,340.90 L640.30,340.89 L640.40,340.88 L640.50,340.88 L640.60,340.87 L640.70,340.86 L640.80,340.86 L640.90,340.85 L641.00,340.84 L641.10,340.83 L641.20,340.83 L641.30,340.82 L641.40,340.81 L641.50,340.80 L641.60,340.80 L641.70,340.79 L641.80,340.78 L641.90,340.77 L642.00,340.77 L642.10,340.76 L642.20,340.75 L642.30,340.74 L642.40,340.74 L642.50,340.73 L642.60,340.72 L642.70,340.71 L642.80,340.70 L642.90,340.69 L643.00,340.69 L643.10,340.68 L643.20,340.67 L643.30,340.66 L643.40,340.65 L643.50,340.65 L643.60,340.64 L643.70,340.63 L643.80,340.62 L643.90,340.61 L644.00,340.60 L644.10,340.60 L644.20,340.59 L644.30,340.58 L644.40,340.57 L644.50,340.56 L644.60,340.55 L644.70,340.54 L644.80,340.53 L644.90,340.52 L645.00,340.51 M648.30,340.18 L648.40,340.17 L648.50,340.15 L648.60,340.14 L648.70,340.13 L648.80,340.12 L648.90,340.11 L649.00,340.10 L649.10,340.09 L649.20,340.08 L649.30,340.07 L649.40,340.05 L649.50,340.04 L649.60,340.03 L649.70,340.02 L649.80,340.01 L649.90,340.00 L650.00,339.99 L650.10,339.97 L650.20,339.96 L650.30,339.95 L650.40,339.94 L650.50,339.93 L650.60,339.92 L650.70,339.90 L650.80,339.89 L650.90,339.88 L651.00,339.87 L651.10,339.85 L651.20,339.84 L651.30,339.83 L651.40,339.82 L651.50,339.81 L651.60,339.79 L651.70,339.78 L651.80,339.77 L651.90,339.75 L652.00,339.74 L652.10,339.73 L652.20,339.72 L652.30,339.70 L652.40,339.69 L652.50,339.68 L652.60,339.66 L652.70,339.65 L652.80,339.64 L652.90,339.63 L653.00,339.61 L653.10,339.60 L653.20,339.59 L653.30,339.57 L653.40,339.56 L653.50,339.55 L653.60,339.53 L653.70,339.52 L653.80,339.50 L653.90,339.49 L654.00,339.48 L654.10,339.46 L654.20,339.45 L654.30,339.44 L654.40,339.42 L654.50,339.41 L654.60,339.40 L654.70,339.38 L654.80,339.37 L654.90,339.35 L655.00,339.34 L655.10,339.33 L655.20,339.31 L655.30,339.30 L655.40,339.28 L655.50,339.27 L655.60,339.25 L655.70,339.24 L655.80,339.23 L655.90,339.21 L656.00,339.20 L656.10,339.18 L656.20,339.17 L656.30,339.15 L656.40,339.14 L656.50,339.13 L656.60,339.11 L656.70,339.10 L656.80,339.08 L656.90,339.07 L657.00,339.05 L657.10,339.04 L657.20,339.02 L657.30,339.01 L657.40,338.99 L657.50,338.98 L657.60,338.96 M667.90,337.20 L667.90,337.20 L668.00,337.18 L668.10,337.16 L668.20,337.14 L668.30,337.12 L668.40,337.10 L668.50,337.08 L668.60,337.06 L668.70,337.04 L668.80,337.02 L668.90,337.00 L669.00,336.99 L669.10,336.97 L669.20,336.95 L669.30,336.93 L669.40,336.91 L669.50,336.89 L669.60,336.87 L669.70,336.85 L669.80,336.83 L669.90,336.81 L670.00,336.79 L670.10,336.77 L670.20,336.75 L670.30,336.73 L670.40,336.71 L670.50,336.69 L670.60,336.67 L670.70,336.65 L670.80,336.63 L670.90,336.61 L671.00,336.59 L671.10,336.57 L671.20,336.55 L671.30,336.53 L671.40,336.51 L671.50,336.49 L671.60,336.47 L671.70,336.45 L671.80,336.43 L671.90,336.41 L672.00,336.39 L672.10,336.37 L672.20,336.34 L672.30,336.32 L672.40,336.30 L672.50,336.28 L672.60,336.26 L672.70,336.24 L672.80,336.22 L672.90,336.20 L673.00,336.18 L673.10,336.16 L673.20,336.14 L673.30,336.11 L673.40,336.09 L673.50,336.07 L673.60,336.05 L673.70,336.03 L673.80,336.01 L673.90,335.99 L674.00,335.97 L674.10,335.94 L674.20,335.92 L674.30,335.90 L674.40,335.88 L674.50,335.86 L674.60,335.84 L674.70,335.82 L674.80,335.79 L674.90,335.77 L675.00,335.75 L675.10,335.73 L675.20,335.71 L675.30,335.69 L675.40,335.66 L675.50,335.64 L675.60,335.62 L675.70,335.60 L675.80,335.58 L675.90,335.56 L676.00,335.53 L676.10,335.51 L676.20,335.49 L676.30,335.47 L676.40,335.45 L676.50,335.42 L676.60,335.40 L676.70,335.38 L676.80,335.36 L676.90,335.34 L677.00,335.31 L677.10,335.29 M686.90,332.97 L687.00,332.95 L687.10,332.92 L687.20,332.90 L687.30,332.87 L687.40,332.85 L687.50,332.82 L687.60,332.80 L687.70,332.77 L687.80,332.75 L687.90,332.72 L688.00,332.70 L688.10,332.67 L688.20,332.65 L688.30,332.62 L688.40,332.60 L688.50,332.57 L688.60,332.55 L688.70,332.52 L688.80,332.49 L688.90,332.47 L689.00,332.44 L689.10,332.42 L689.20,332.39 L689.30,332.37 L689.40,332.34 L689.50,332.32 L689.60,332.29 L689.70,332.26 L689.80,332.24 L689.90,332.21 L690.00,332.19 L690.10,332.16 L690.20,332.14 L690.30,332.11 L690.40,332.08 L690.50,332.06 L690.60,332.03 L690.70,332.01 L690.80,331.98 L690.90,331.95 L691.00,331.93 L691.10,331.90 L691.20,331.88 L691.30,331.85 L691.40,331.82 L691.50,331.80 L691.60,331.77 L691.70,331.74 L691.80,331.72 L691.90,331.69 L692.00,331.67 L692.10,331.64 L692.20,331.61 L692.30,331.59 L692.40,331.56 L692.50,331.53 L692.60,331.51 L692.70,331.48 L692.80,331.45 L692.90,331.43 L693.00,331.40 L693.10,331.37 L693.20,331.35 L693.30,331.32 L693.40,331.29 L693.50,331.27 L693.60,331.24 L693.70,331.21 L693.80,331.19 L693.90,331.16 L694.00,331.13 L694.10,331.11 L694.20,331.08 L694.30,331.05 L694.40,331.03 L694.50,331.00 L694.60,330.97 L694.70,330.95 L694.80,330.92 L694.90,330.89 L695.00,330.87 L695.10,330.84 L695.20,330.81 L695.30,330.78 L695.40,330.76 L695.50,330.73 L695.60,330.70 L695.70,330.68 L695.80,330.65 L695.90,330.62 L696.00,330.60 L696.10,330.57 L696.20,330.54 L696.30,330.51 L696.40,330.49 L696.50,330.46 L696.60,330.43 L696.70,330.41 L696.70,330.41 M706.10,327.76 L706.20,327.73 L706.30,327.71 L706.40,327.68 L706.50,327.65 L706.60,327.62 L706.70,327.59 L706.80,327.56 L706.90,327.53 L707.00,327.50 L707.10,327.47 L707.20,327.45 L707.30,327.42 L707.40,327.39 L707.50,327.36 L707.60,327.33 L707.70,327.30 L707.80,327.27 L707.90,327.24 L708.00,327.21 L708.10,327.18 L708.20,327.15 L708.30,327.13 L708.40,327.10 L708.50,327.07 L708.60,327.04 L708.70,327.01 L708.80,326.98 L708.90,326.95 L709.00,326.92 L709.10,326.89 L709.20,326.86 L709.30,326.83 L709.40,326.80 L709.50,326.77 L709.60,326.75 L709.70,326.72 L709.80,326.69 L709.90,326.66 L710.00,326.63 L710.10,326.60 L710.20,326.57 L710.30,326.54 L710.40,326.51 L710.50,326.48 L710.60,326.45 L710.70,326.42 L710.80,326.39 L710.90,326.36 L711.00,326.33 L711.10,326.30 L711.20,326.27 L711.30,326.24 L711.40,326.21 L711.50,326.18 L711.60,326.15 L711.70,326.13 L711.80,326.10 L711.90,326.07 L712.00,326.04 L712.10,326.01 L712.20,325.98 L712.30,325.95 L712.40,325.92 L712.50,325.89 L712.60,325.86 L712.70,325.83 L712.80,325.80 L712.90,325.77 L713.00,325.74 L713.10,325.71 L713.20,325.68 L713.30,325.65 L713.40,325.62 L713.50,325.59 L713.60,325.56 L713.70,325.53 L713.80,325.50 L713.90,325.47 L714.00,325.44 L714.10,325.41 L714.20,325.38 L714.30,325.35 L714.40,325.32 L714.50,325.29 L714.60,325.26 L714.70,325.23 L714.80,325.20 L714.90,325.17 L715.00,325.14 L715.10,325.11 L715.20,325.08 L715.30,325.05 L715.40,325.02 L715.50,324.99 L715.60,324.96 L715.70,324.93 L715.80,324.90 M724.90,322.14 L725.00,322.11 L725.10,322.08 L725.20,322.04 L725.30,322.01 L725.40,321.98 L725.50,321.95 L725.60,321.92 L725.70,321.89 L725.80,321.86 L725.90,321.83 L726.00,321.80 L726.10,321.77 L726.20,321.74 L726.30,321.71 L726.40,321.68 L726.50,321.65 L726.60,321.62 L726.70,321.58 L726.80,321.55 L726.90,321.52 L727.00,321.49 L727.10,321.46 L727.20,321.43 L727.30,321.40 L727.40,321.37 L727.50,321.34 L727.60,321.31 L727.70,321.28 L727.80,321.25 L727.90,321.21 L728.00,321.18 L728.10,321.15 L728.20,321.12 L728.30,321.09 L728.40,321.06 L728.50,321.03 L728.60,321.00 L728.70,320.97 L728.80,320.94 L728.90,320.91 L729.00,320.88 L729.10,320.85 L729.20,320.82 L729.30,320.78 L729.40,320.75 L729.50,320.72 L729.60,320.69 L729.70,320.66 L729.80,320.63 L729.90,320.60 L730.00,320.57 L730.10,320.54 L730.20,320.51 L730.30,320.48 L730.40,320.45 L730.50,320.42 L730.60,320.39 L730.70,320.36 L730.80,320.32 L730.90,320.29 L731.00,320.26 L731.10,320.23 L731.20,320.20 L731.30,320.17 L731.40,320.14 L731.50,320.11 L731.60,320.08 L731.70,320.05 L731.80,320.02 L731.90,319.99 L732.00,319.96 L732.10,319.92 L732.20,319.89 L732.30,319.86 L732.40,319.83 L732.50,319.80 L732.60,319.77 L732.70,319.74 L732.80,319.71 L732.90,319.68 L733.00,319.65 L733.10,319.62 L733.20,319.59 L733.30,319.56 L733.40,319.53 L733.50,319.50 L733.60,319.46 L733.70,319.43 L733.80,319.40 L733.90,319.37 L734.00,319.34 L734.10,319.31 L734.20,319.28 L734.30,319.25 L734.40,319.22 L734.50,319.19 L734.60,319.16 L734.60,319.16 M743.70,316.43 L743.80,316.40 L743.90,316.37 L744.00,316.34 L744.10,316.31 L744.20,316.28 L744.30,316.25 L744.40,316.23 L744.50,316.20 L744.60,316.17 L744.70,316.14 L744.80,316.11 L744.90,316.08 L745.00,316.05 L745.10,316.02 L745.20,315.99 L745.30,315.97 L745.40,315.94 L745.50,315.91 L745.60,315.88 L745.70,315.85 L745.80,315.82 L745.90,315.79 L746.00,315.76 L746.10,315.74 L746.20,315.71 L746.30,315.68 L746.40,315.65 L746.50,315.62 L746.60,315.59 L746.70,315.56 L746.80,315.54 L746.90,315.51 L747.00,315.48 L747.10,315.45 L747.20,315.42 L747.30,315.39 L747.40,315.37 L747.50,315.34 L747.60,315.31 L747.70,315.28 L747.80,315.25 L747.90,315.23 L748.00,315.20 L748.10,315.17 L748.20,315.14 L748.30,315.11 L748.40,315.09 L748.50,315.06 L748.60,315.03 L748.70,315.00 L748.80,314.98 L748.90,314.95 L749.00,314.92 L749.10,314.89 L749.20,314.87 L749.30,314.84 L749.40,314.81 L749.50,314.78 L749.60,314.76 L749.70,314.73 L749.80,314.70 L749.90,314.67 L750.00,314.65 L750.10,314.62 L750.20,314.59 L750.30,314.57 L750.40,314.54 L750.50,314.51 L750.60,314.49 L750.70,314.46 L750.80,314.43 L750.90,314.41 L751.00,314.38 L751.10,314.35 L751.20,314.33 L751.30,314.30 L751.40,314.27 L751.50,314.25 L751.60,314.22 L751.70,314.19 L751.80,314.17 L751.90,314.14 L752.00,314.11 L752.10,314.09 L752.20,314.06 L752.30,314.04 L752.40,314.01 L752.50,313.98 L752.60,313.96 L752.70,313.93 L752.80,313.90 L752.90,313.88 L753.00,313.85 L753.10,313.83 L753.20,313.80 L753.30,313.77 L753.40,313.75 M763.00,311.49 L763.10,311.47 L763.20,311.44 L763.30,311.42 L763.40,311.40 L763.50,311.38 L763.60,311.36 L763.70,311.34 L763.80,311.32 L763.90,311.30 L764.00,311.28 L764.10,311.26 L764.20,311.24 L764.30,311.22 L764.40,311.20 L764.50,311.18 L764.60,311.16 L764.70,311.14 L764.80,311.12 L764.90,311.10 L765.00,311.08 L765.10,311.06 L765.20,311.04 L765.30,311.02 L765.40,311.00 L765.50,310.98 L765.60,310.96 L765.70,310.94 L765.80,310.93 L765.90,310.91 L766.00,310.89 L766.10,310.87 L766.20,310.85 L766.30,310.83 L766.40,310.81 L766.50,310.79 L766.60,310.77 L766.70,310.75 L766.80,310.74 L766.90,310.72 L767.00,310.70 L767.10,310.68 L767.20,310.66 L767.30,310.64 L767.40,310.63 L767.50,310.61 L767.60,310.59 L767.70,310.57 L767.80,310.55 L767.90,310.53 L768.00,310.52 L768.10,310.50 L768.20,310.48 L768.30,310.46 L768.40,310.45 L768.50,310.43 L768.60,310.41 L768.70,310.39 L768.80,310.38 L768.90,310.36 L769.00,310.34 L769.10,310.32 L769.20,310.31 L769.30,310.29 L769.40,310.27 L769.50,310.26 L769.60,310.24 L769.70,310.22 L769.80,310.21 L769.90,310.19 L770.00,310.17 L770.10,310.16 L770.20,310.14 L770.30,310.13 L770.40,310.11 L770.50,310.09 L770.60,310.08 L770.70,310.06 L770.80,310.05 L770.90,310.03 L771.00,310.02 L771.10,310.00 L771.20,309.98 L771.30,309.97 L771.40,309.95 L771.50,309.94 L771.60,309.92 L771.70,309.91 L771.80,309.89 L771.90,309.88 L772.00,309.86 L772.10,309.85 L772.20,309.83 L772.30,309.82 L772.40,309.80 L772.50,309.79 L772.60,309.77 L772.70,309.76 M782.40,308.65 L782.50,308.64 L782.60,308.63 L782.70,308.62 L782.80,308.62 L782.90,308.61 L783.00,308.60 L783.10,308.59 L783.20,308.58 L783.30,308.58 L783.40,308.57 L783.50,308.56 L783.60,308.55 L783.70,308.54 L783.80,308.54 L783.90,308.53 L784.00,308.52 L784.10,308.51 L784.20,308.51 L784.30,308.50 L784.40,308.49 L784.50,308.48 L784.60,308.48 L784.70,308.47 L784.80,308.46 L784.90,308.45 L785.00,308.45 L785.10,308.44 L785.20,308.43 L785.30,308.43 L785.40,308.42 L785.50,308.41 L785.60,308.41 L785.70,308.40 L785.80,308.39 L785.90,308.39 L786.00,308.38 L786.10,308.37 L786.20,308.37 L786.30,308.36 L786.40,308.35 L786.50,308.35 L786.60,308.34 L786.70,308.33 L786.80,308.33 L786.90,308.32 L787.00,308.32 L787.10,308.31 L787.20,308.30 L787.30,308.30 L787.40,308.29 L787.50,308.29 L787.60,308.28 L787.70,308.28 L787.80,308.27 L787.90,308.27 L788.00,308.26 L788.10,308.26 L788.20,308.25 L788.30,308.25 L788.40,308.24 L788.50,308.24 L788.60,308.23 L788.70,308.23 L788.80,308.22 L788.90,308.22 L789.00,308.21 L789.10,308.21 L789.20,308.20 L789.30,308.20 L789.40,308.19 L789.50,308.19 L789.60,308.18 L789.70,308.18 L789.80,308.17 L789.90,308.17 L790.00,308.17 L790.10,308.16 L790.20,308.16 L790.30,308.15 L790.40,308.15 L790.50,308.15 L790.60,308.14 L790.70,308.14 L790.80,308.13 L790.90,308.13 L791.00,308.13 L791.10,308.12 L791.20,308.12 L791.30,308.11 L791.40,308.11 L791.50,308.11 L791.60,308.10 L791.70,308.10 L791.80,308.10 L791.90,308.09 L792.00,308.09 L792.10,308.09 M801.30,308.00 L801.40,308.00 L801.50,308.00 L801.60,308.00 L801.70,308.00 L801.80,308.00 L801.90,308.00 L802.00,308.00 L802.10,308.01 L802.20,308.01 L802.30,308.01 L802.40,308.01 L802.50,308.01 L802.60,308.01 L802.70,308.01 L802.80,308.02 L802.90,308.02 L803.00,308.02 L803.10,308.02 L803.20,308.02 L803.30,308.03 L803.40,308.03 L803.50,308.03 L803.60,308.03 L803.70,308.03 L803.80,308.04 L803.90,308.04 L804.00,308.04 L804.10,308.04 L804.20,308.05 L804.30,308.05 L804.40,308.05 L804.50,308.05 L804.60,308.06 L804.70,308.06 L804.80,308.06 L804.90,308.06 L805.00,308.07 L805.10,308.07 L805.20,308.07 L805.30,308.07 L805.40,308.08 L805.50,308.08 L805.60,308.08 L805.70,308.09 L805.80,308.09 L805.90,308.09 L806.00,308.10 L806.10,308.10 L806.20,308.10 L806.30,308.11 L806.40,308.11 L806.50,308.11 L806.60,308.12 L806.70,308.12 L806.80,308.12 L806.90,308.13 L807.00,308.13 L807.10,308.13 L807.20,308.14 L807.30,308.14 L807.40,308.14 L807.50,308.15 L807.60,308.15 L807.70,308.15 L807.80,308.16 L807.90,308.16 L808.00,308.17 L808.10,308.17 L808.20,308.17 L808.30,308.18 L808.40,308.18 L808.50,308.19 L808.60,308.19 L808.70,308.19 L808.80,308.20 L808.90,308.20 L809.00,308.21 L809.10,308.21 L809.20,308.22 L809.30,308.22 L809.40,308.23 L809.50,308.23 L809.60,308.24 L809.70,308.24 L809.80,308.25 L809.90,308.25 L810.00,308.25 L810.10,308.26 L810.20,308.26 L810.30,308.27 L810.40,308.27 L810.50,308.28 L810.60,308.28 L810.70,308.29 L810.80,308.29 L810.90,308.30 L811.00,308.31 L811.10,308.31 L811.20,308.32 L811.30,308.32 L811.40,308.33 L811.50,308.33 M820.60,308.96 L820.70,308.97 L820.80,308.98 L820.90,308.99 L821.00,309.00 L821.10,309.00 L821.20,309.01 L821.30,309.02 L821.40,309.03 L821.50,309.04 L821.60,309.05 L821.70,309.06 L821.80,309.07 L821.90,309.07 L822.00,309.08 L822.10,309.09 L822.20,309.10 L822.30,309.11 L822.40,309.12 L822.50,309.13 L822.60,309.14 L822.70,309.15 L822.80,309.16 L822.90,309.17 L823.00,309.17 L823.10,309.18 L823.20,309.19 L823.30,309.20 L823.40,309.21 L823.50,309.22 L823.60,309.23 L823.70,309.24 L823.80,309.25 L823.90,309.26 L824.00,309.27 L824.10,309.28 L824.20,309.29 L824.30,309.30 L824.40,309.31 L824.50,309.32 L824.60,309.33 L824.70,309.34 L824.80,309.35 L824.90,309.36 L825.00,309.37 L825.10,309.38 L825.20,309.39 L825.30,309.40 L825.40,309.41 L825.50,309.42 L825.60,309.43 L825.70,309.44 L825.80,309.45 L825.90,309.46 L826.00,309.47 L826.10,309.48 L826.20,309.49 L826.30,309.50 L826.40,309.51 L826.50,309.52 L826.60,309.53 L826.70,309.54 L826.80,309.55 L826.90,309.56 L827.00,309.57 L827.10,309.58 L827.20,309.59 L827.30,309.60 L827.40,309.61 L827.50,309.62 L827.60,309.64 L827.70,309.65 L827.80,309.66 L827.90,309.67 L828.00,309.68 L828.10,309.69 L828.20,309.70 L828.30,309.71 L828.40,309.72 L828.50,309.73 L828.60,309.74 L828.70,309.75 L828.80,309.76 L828.90,309.78 L829.00,309.79 L829.10,309.80 L829.20,309.81 L829.30,309.82 L829.40,309.83 L829.50,309.84 L829.60,309.85 L829.70,309.86 L829.70,309.86 M838.90,311.01 L839.00,311.03 L839.10,311.04 L839.20,311.06 L839.30,311.07 L839.40,311.08 L839.50,311.10 L839.60,311.11 L839.70,311.13 L839.80,311.14 L839.90,311.15 L840.00,311.17 L840.10,311.18 L840.20,311.20 L840.30,311.21 L840.40,311.22 L840.50,311.24 L840.60,311.25 L840.70,311.27 L840.80,311.28 L840.90,311.29 L841.00,311.31 L841.10,311.32 L841.20,311.34 L841.30,311.35 L841.40,311.37 L841.50,311.38 L841.60,311.39 L841.70,311.41 L841.80,311.42 L841.90,311.44 L842.00,311.45 L842.10,311.47 L842.20,311.48 L842.30,311.50 L842.40,311.51 L842.50,311.52 L842.60,311.54 L842.70,311.55 L842.80,311.57 L842.90,311.58 L843.00,311.60 L843.10,311.61 L843.20,311.63 L843.30,311.64 L843.40,311.66 L843.50,311.67 L843.60,311.69 L843.70,311.70 L843.80,311.72 L843.90,311.73 L844.00,311.75 L844.10,311.76 L844.20,311.78 L844.30,311.79 L844.40,311.81 L844.50,311.82 L844.60,311.84 L844.70,311.85 L844.80,311.87 L844.90,311.88 L845.00,311.90 L845.10,311.91 L845.20,311.93 L845.30,311.94 L845.40,311.96 L845.50,311.97 L845.60,311.99 L845.70,312.00 L845.80,312.02 L845.90,312.03 L846.00,312.05 L846.10,312.06 L846.20,312.08 L846.30,312.10 L846.40,312.11 L846.50,312.13 L846.60,312.14 L846.70,312.16 L846.80,312.17 L846.90,312.19 L847.00,312.20 L847.10,312.22 L847.20,312.23 L847.30,312.25 L847.40,312.27 L847.50,312.28 L847.60,312.30 L847.70,312.31 L847.80,312.33 L847.90,312.34 L848.00,312.36 L848.10,312.37 L848.20,312.39 L848.30,312.40 L848.40,312.42 L848.50,312.44 L848.50,312.44 M857.10,313.86 L857.10,313.86 L857.20,313.87 L857.30,313.89 L857.40,313.91 L857.50,313.92 L857.60,313.94 L857.70,313.96 L857.80,313.98 L857.90,313.99 L858.00,314.01 L858.10,314.03 L858.20,314.05 L858.30,314.06 L858.40,314.08 L858.50,314.10 L858.60,314.12 L858.70,314.13 L858.80,314.15 L858.90,314.17 L859.00,314.19 L859.10,314.20 L859.20,314.22 L859.30,314.24 L859.40,314.26 L859.50,314.27 L859.60,314.29 L859.70,314.31 L859.80,314.33 L859.90,314.34 L860.00,314.36 L860.10,314.38 L860.20,314.40 L860.30,314.41 L860.40,314.43 L860.50,314.45 L860.60,314.47 L860.70,314.48 L860.80,314.50 L860.90,314.52 L861.00,314.54 L861.10,314.55 L861.20,314.57 L861.30,314.59 L861.40,314.61 L861.50,314.62 L861.60,314.64 L861.70,314.66 L861.80,314.68 L861.90,314.69 L862.00,314.71 L862.10,314.73 L862.20,314.75 L862.30,314.77 L862.40,314.78 L862.50,314.80 L862.60,314.82 L862.70,314.84 L862.80,314.85 L862.90,314.87 L863.00,314.89 L863.10,314.91 L863.20,314.93 L863.30,314.94 L863.40,314.96 L863.50,314.98 L863.60,315.00 L863.70,315.02 L863.80,315.03 L863.90,315.05 L864.00,315.07 L864.10,315.09 L864.20,315.11 L864.30,315.13 L864.40,315.14 L864.50,315.16 L864.60,315.18 L864.70,315.20 L864.80,315.22 L864.90,315.23 L865.00,315.25 L865.10,315.27 L865.20,315.29 L865.30,315.31 L865.40,315.33 L865.50,315.34 L865.60,315.36 L865.70,315.38 L865.80,315.40 L865.90,315.42 L866.00,315.44 L866.10,315.45 L866.20,315.47 L866.30,315.49 L866.40,315.51 L866.50,315.53 L866.60,315.55 L866.70,315.57 L866.80,315.58 M875.90,317.30 L876.00,317.32 L876.10,317.34 L876.20,317.36 L876.30,317.38 L876.40,317.40 L876.50,317.42 L876.60,317.44 L876.70,317.46 L876.80,317.48 L876.90,317.50 L877.00,317.52 L877.10,317.54 L877.20,317.56 L877.30,317.58 L877.40,317.60 L877.50,317.61 L877.60,317.63 L877.70,317.65 L877.80,317.67 L877.90,317.69 L878.00,317.71 L878.10,317.73 L878.20,317.75 L878.30,317.77 L878.40,317.79 L878.50,317.81 L878.60,317.83 L878.70,317.85 L878.80,317.87 L878.90,317.89 L879.00,317.91 L879.10,317.93 L879.20,317.95 L879.30,317.97 L879.40,317.99 L879.50,318.01 L879.60,318.03 L879.70,318.05 L879.80,318.07 L879.90,318.09 L880.00,318.11 L880.10,318.13 L880.20,318.15 L880.30,318.17 L880.40,318.19 L880.50,318.21 L880.60,318.23 L880.70,318.25 L880.80,318.27 L880.90,318.29 L881.00,318.31 L881.10,318.33 L881.20,318.35 L881.30,318.37 L881.40,318.39 L881.50,318.41 L881.60,318.43 L881.70,318.45 L881.80,318.47 L881.90,318.49 L882.00,318.51 L882.10,318.53 L882.20,318.55 L882.30,318.57 L882.40,318.59 L882.50,318.61 L882.60,318.63 L882.70,318.65 L882.80,318.67 L882.90,318.69 L883.00,318.71 L883.10,318.73 L883.20,318.75 L883.30,318.77 L883.40,318.79 L883.50,318.81 L883.60,318.83 L883.70,318.85 L883.80,318.87 L883.90,318.89 L884.00,318.91 L884.10,318.93 L884.20,318.95 L884.30,318.97 L884.40,318.99 L884.50,319.01 L884.60,319.03 L884.70,319.05 L884.80,319.07 L884.90,319.09 L885.00,319.11 L885.10,319.13 L885.20,319.15 L885.30,319.17 L885.40,319.20 L885.50,319.22 L885.60,319.24 M894.70,321.12 L894.80,321.14 L894.90,321.17 L895.00,321.19 L895.10,321.21 L895.20,321.23 L895.30,321.25 L895.40,321.27 L895.50,321.29 L895.60,321.31 L895.70,321.33 L895.80,321.35 L895.90,321.38 L896.00,321.40 L896.10,321.42 L896.20,321.44 L896.30,321.46 L896.40,321.48 L896.50,321.50 L896.60,321.52 L896.70,321.54 L896.80,321.56 L896.90,321.59 L897.00,321.61 L897.10,321.63 L897.20,321.65 L897.30,321.67 L897.40,321.69 L897.50,321.71 L897.60,321.73 L897.70,321.75 L897.80,321.78 L897.90,321.80 L898.00,321.82 L898.10,321.84 L898.20,321.86 L898.30,321.88 L898.40,321.90 L898.50,321.92 L898.60,321.95 L898.70,321.97 L898.80,321.99 L898.90,322.01 L899.00,322.03 L899.10,322.05 L899.20,322.07 L899.30,322.10 L899.40,322.12 L899.50,322.14 L899.60,322.16 L899.70,322.18 L899.80,322.20 L899.90,322.23 L900.00,322.25 L900.10,322.27 L900.20,322.29 L900.30,322.31 L900.40,322.33 L900.50,322.36 L900.60,322.38 L900.70,322.40 L900.80,322.42 L900.90,322.44 L901.00,322.46 L901.10,322.49 L901.20,322.51 L901.30,322.53 L901.40,322.55 L901.50,322.57 L901.60,322.59 L901.70,322.62 L901.80,322.64 L901.90,322.66 L902.00,322.68 L902.10,322.70 L902.20,322.73 L902.30,322.75 L902.40,322.77 L902.50,322.79 L902.60,322.81 L902.70,322.83 L902.80,322.86 L902.90,322.88 L903.00,322.90 L903.10,322.92 L903.20,322.94 L903.30,322.96 L903.40,322.99 L903.50,323.01 L903.60,323.03 L903.70,323.05 L903.80,323.07 L903.90,323.09 L904.00,323.12 L904.10,323.14 L904.20,323.16 L904.30,323.18 L904.40,323.20 L904.50,323.22 L904.60,323.25 L904.70,323.27 M914.00,325.32 L914.10,325.34 L914.20,325.37 L914.30,325.39 L914.40,325.41 L914.50,325.43 L914.60,325.46 L914.70,325.48 L914.80,325.50 L914.90,325.52 L915.00,325.55 L915.10,325.57 L915.20,325.59 L915.30,325.61 L915.40,325.64 L915.50,325.66 L915.60,325.68 L915.70,325.70 L915.80,325.72 L915.90,325.75 L916.00,325.77 L916.10,325.79 L916.20,325.81 L916.30,325.84 L916.40,325.86 L916.50,325.88 L916.60,325.90 L916.70,325.93 L916.80,325.95 L916.90,325.97 L917.00,326.00 L917.10,326.02 L917.20,326.04 L917.30,326.06 L917.40,326.09 L917.50,326.11 L917.60,326.13 L917.70,326.15 L917.80,326.18 L917.90,326.20 L918.00,326.22 L918.10,326.24 L918.20,326.26 L918.30,326.29 L918.40,326.31 L918.50,326.33 L918.60,326.35 L918.70,326.38 L918.80,326.40 L918.90,326.42 L919.00,326.45 L919.10,326.47 L919.20,326.49 L919.30,326.51 L919.40,326.53 L919.50,326.56 L919.60,326.58 L919.70,326.60 L919.80,326.62 L919.90,326.65 L920.00,326.67 L920.10,326.69 L920.20,326.71 L920.30,326.74 L920.40,326.76 L920.50,326.78 L920.60,326.81 L920.70,326.83 L920.80,326.85 L920.90,326.87 L921.00,326.90 L921.10,326.92 L921.20,326.94 L921.30,326.96 L921.40,326.99 L921.50,327.01 L921.60,327.03 L921.70,327.05 L921.80,327.08 L921.90,327.10 L922.00,327.12 L922.10,327.14 L922.20,327.17 L922.30,327.19 L922.40,327.21 L922.50,327.24 L922.60,327.26 L922.70,327.28 L922.80,327.30 L922.90,327.33 L923.00,327.35 L923.10,327.37 L923.20,327.40 L923.30,327.42 L923.40,327.44 L923.50,327.46 L923.60,327.49 L923.70,327.51 L923.80,327.53 M933.10,329.67 L933.20,329.69 L933.30,329.72 L933.40,329.74 L933.50,329.76 L933.60,329.79 L933.70,329.81 L933.80,329.83 L933.90,329.86 L934.00,329.88 L934.10,329.90 L934.20,329.92 L934.30,329.95 L934.40,329.97 L934.50,329.99 L934.60,330.02 L934.70,330.04 L934.80,330.06 L934.90,330.09 L935.00,330.11 L935.10,330.13 L935.20,330.16 L935.30,330.18 L935.40,330.20 L935.50,330.22 L935.60,330.25 L935.70,330.27 L935.80,330.29 L935.90,330.32 L936.00,330.34 L936.10,330.36 L936.20,330.39 L936.30,330.41 L936.40,330.43 L936.50,330.46 L936.60,330.48 L936.70,330.50 L936.80,330.53 L936.90,330.55 L937.00,330.57 L937.10,330.60 L937.20,330.62 L937.30,330.64 L937.40,330.67 L937.50,330.69 L937.60,330.71 L937.70,330.74 L937.80,330.76 L937.90,330.78 L938.00,330.81 L938.10,330.83 L938.20,330.85 L938.30,330.88 L938.40,330.90 L938.50,330.92 L938.60,330.95 L938.70,330.97 L938.80,330.99 L938.90,331.02 L939.00,331.04 L939.10,331.06 L939.20,331.08 L939.30,331.11 L939.40,331.13 L939.50,331.15 L939.60,331.18 L939.70,331.20 L939.80,331.22 L939.90,331.25 L940.00,331.27 L940.10,331.29 L940.20,331.32 L940.30,331.34 L940.40,331.36 L940.50,331.39 L940.60,331.41 L940.70,331.43 L940.80,331.46 L940.90,331.48 L941.00,331.50 L941.10,331.53 L941.20,331.55 L941.30,331.57 L941.40,331.60 L941.50,331.62 L941.60,331.64 L941.70,331.67 L941.80,331.69 L941.90,331.71 L942.00,331.74 L942.10,331.76 L942.20,331.78 L942.30,331.81 L942.40,331.83 L942.50,331.85 L942.60,331.88 L942.60,331.88 M952.20,334.12 L952.22,334.13 L952.32,334.15 L952.42,334.17 L952.52,334.20 L952.62,334.22 L952.72,334.25 L952.83,334.27 L952.93,334.29 L953.03,334.32 L953.13,334.34 L953.23,334.36 L953.33,334.39 L953.43,334.41 L953.53,334.43 L953.64,334.46 L953.74,334.48 L953.84,334.51 L953.94,334.53 L954.04,334.55 L954.14,334.58 L954.24,334.60 L954.34,334.62 L954.44,334.65 L954.54,334.67 L954.64,334.69 L954.74,334.72 L954.84,334.74 L954.94,334.76 L955.04,334.78 L955.14,334.81 L955.23,334.83 L955.33,334.85 L955.43,334.88 L955.53,334.90 L955.63,334.92 L955.72,334.94 L955.82,334.97 L955.92,334.99 L956.02,335.01 L956.11,335.03 L956.21,335.06 L956.30,335.08 L956.40,335.10 L956.49,335.12 L956.57,335.14 L956.66,335.16 L956.75,335.18 L956.83,335.20 L956.92,335.22 L957.00,335.24 L957.09,335.26 L957.17,335.28 L957.26,335.30 L957.34,335.32 L957.43,335.34 L957.51,335.36 L957.60,335.38 L957.68,335.40 L957.76,335.42 L957.85,335.44 L957.93,335.46 L958.02,335.48 L958.10,335.50 L958.18,335.52 L958.26,335.54 L958.35,335.56 L958.43,335.58 L958.51,335.60 L958.60,335.62 L958.68,335.63 L958.76,335.65 L958.84,335.67 L958.93,335.69 L959.01,335.71 L959.09,335.73 L959.17,335.75 L959.26,335.77 L959.34,335.79 L959.42,335.81 L959.50,335.83 L959.58,335.85 L959.67,335.87 L959.75,335.88 L959.83,335.90 L959.91,335.92 L959.99,335.94 L960.08,335.96 L960.16,335.98 L960.24,336.00 L960.32,336.02 L960.41,336.04 L960.49,336.06 L960.57,336.08 L960.65,336.10 L960.74,336.11 L960.82,336.13 L960.90,336.15 L960.98,336.17 L961.07,336.19 L961.15,336.21 L961.23,336.23 L961.32,336.25 L961.40,336.27" fill="none" stroke="#a98566" stroke-width="1.9"/>
<path d="M506.80,177.96 C509.47,177.26 512.14,176.62 514.80,175.86 C517.48,175.09 520.14,174.24 522.80,173.36 C525.48,172.46 528.14,171.50 530.80,170.51 C533.47,169.52 536.14,168.47 538.80,167.40 C541.47,166.32 544.14,165.20 546.80,164.07 C549.47,162.94 552.14,161.78 554.80,160.61 C557.47,159.44 560.13,158.25 562.80,157.07 C565.47,155.88 568.13,154.69 570.80,153.51 C573.47,152.33 576.13,151.15 578.80,150.00 C581.46,148.84 584.13,147.70 586.80,146.59 C589.46,145.48 592.13,144.39 594.80,143.34 C597.46,142.30 600.13,141.28 602.80,140.32 C605.46,139.37 608.12,138.44 610.80,137.59 C613.46,136.75 616.12,135.95 618.80,135.23 C621.46,134.52 624.13,133.87 626.80,133.29 C629.46,132.71 632.13,132.19 634.80,131.74 C637.46,131.28 640.13,130.89 642.80,130.55 C645.46,130.21 648.13,129.93 650.80,129.70 C653.46,129.47 656.13,129.29 658.80,129.16 C661.47,129.02 664.13,128.94 666.80,128.89 C669.47,128.84 672.13,128.84 674.80,128.87 C677.47,128.90 680.13,128.97 682.80,129.08 C685.47,129.20 688.14,129.35 690.80,129.56 C693.47,129.77 696.14,130.03 698.80,130.37 C701.47,130.71 704.14,131.10 706.80,131.60 C709.47,132.09 712.14,132.67 714.80,133.34 C717.48,134.02 720.15,134.81 722.80,135.66 C725.48,136.53 728.15,137.50 730.80,138.52 C733.48,139.56 736.15,140.68 738.80,141.85 C741.48,143.03 744.14,144.28 746.80,145.57 C749.48,146.86 752.14,148.22 754.80,149.58 C757.47,150.96 760.14,152.37 762.80,153.79 C765.47,155.21 768.13,156.65 770.80,158.09 C773.47,159.53 776.13,160.98 778.80,162.42 C781.47,163.87 784.13,165.32 786.80,166.76 C789.46,168.20 792.13,169.63 794.80,171.04 C797.46,172.44 800.13,173.83 802.80,175.18 C805.46,176.51 808.12,177.83 810.80,179.08 C813.46,180.33 816.12,181.54 818.80,182.68 C821.45,183.81 824.12,184.89 826.80,185.89 C829.45,186.87 832.12,187.79 834.80,188.61 C837.45,189.42 840.12,190.16 842.80,190.77 C845.46,191.38 848.12,191.90 850.80,192.29 C853.46,192.67 856.13,192.95 858.80,193.08 C861.46,193.21 864.14,193.22 866.80,193.08 C869.47,192.94 872.14,192.65 874.80,192.23 C877.48,191.80 880.15,191.20 882.80,190.51 C885.48,189.80 888.15,188.93 890.80,188.00 C893.48,187.05 896.15,185.97 898.80,184.86 C901.48,183.73 904.14,182.51 906.80,181.28 C909.47,180.05 912.13,178.74 914.80,177.47 C917.47,176.19 920.59,174.67 922.80,173.61 C924.36,172.87 925.47,172.36 926.80,171.73" fill="none" stroke="#2e6b3f" stroke-width="2.2"/>
<path d="M487.20,386.53 C491.20,385.51 495.19,384.44 499.20,383.47 C503.19,382.50 507.20,381.59 511.20,380.71 C515.20,379.82 519.20,378.98 523.20,378.14 C527.20,377.31 531.20,376.50 535.20,375.68 C539.20,374.85 543.20,374.04 547.20,373.19 C551.20,372.34 555.20,371.49 559.20,370.59 C563.20,369.68 567.21,368.75 571.20,367.75 C575.21,366.74 579.21,365.70 583.20,364.57 C587.21,363.44 591.21,362.24 595.20,360.95 C599.21,359.65 603.22,358.27 607.20,356.77 C611.22,355.26 615.22,353.66 619.20,351.94 C623.22,350.19 627.23,348.33 631.20,346.33 C635.23,344.30 639.94,341.71 643.20,339.85 C645.50,338.54 646.76,337.72 649.00,336.37 C652.09,334.49 656.24,332.00 660.00,329.60 C664.03,327.03 668.34,324.36 672.40,321.40 C676.58,318.35 680.91,314.91 684.70,311.50 C688.27,308.29 691.65,305.01 694.60,301.60 C697.37,298.40 699.61,295.25 702.00,291.70 C704.59,287.86 707.21,283.47 709.50,279.30 C711.73,275.24 713.74,271.14 715.60,267.00 C717.44,262.91 718.99,258.17 720.60,254.60 C721.87,251.79 722.67,249.67 724.30,247.20 C726.22,244.30 729.23,241.39 731.70,238.50 C734.16,235.62 737.18,232.61 739.10,229.90 C740.61,227.77 741.69,225.67 742.60,223.80 C743.33,222.30 743.54,220.70 744.30,219.60 C744.93,218.69 745.74,217.85 746.60,217.50 C747.39,217.18 748.34,217.11 749.20,217.40 C750.28,217.76 751.00,218.89 752.40,220.00 C754.99,222.05 759.87,225.77 763.60,228.60 C767.30,231.40 771.07,233.89 774.70,236.90 C778.48,240.04 782.30,243.74 785.80,247.10 C789.07,250.24 792.26,253.22 795.10,256.40 C797.80,259.43 800.16,262.57 802.50,265.70 C804.78,268.74 806.97,271.79 809.00,274.90 C811.00,277.96 813.03,281.03 814.60,284.20 C816.11,287.24 817.15,290.51 818.30,293.50 C819.37,296.26 820.28,298.71 821.30,301.50 C822.41,304.53 823.56,307.60 824.70,311.00 C826.00,314.87 827.48,319.21 828.60,323.50 C829.76,327.94 830.48,332.82 831.50,337.20 C832.45,341.26 832.95,345.09 834.50,348.90 C836.15,352.94 838.26,356.98 841.30,360.70 C844.83,365.01 850.20,369.63 855.00,372.80 C859.37,375.68 863.63,377.48 868.70,379.30 C874.56,381.40 881.72,383.15 888.30,384.20 C894.79,385.23 902.07,385.32 907.90,385.60 C912.59,385.82 916.37,385.80 920.60,385.90" fill="none" stroke="#2e6b3f" stroke-width="2.6" stroke-linejoin="round"/>
<line x1="552.7" y1="222.9" x2="540.8" y2="315.2" stroke="#8a8a8a" stroke-width="1.4"/>
<line x1="853.6" y1="251" x2="816.5" y2="282.5" stroke="#8a8a8a" stroke-width="1.4"/>
<line x1="486.6" y1="70" x2="486.6" y2="388.5" stroke="#2d2d2d" stroke-width="2.2"/>
<line x1="485.5" y1="387.4" x2="962" y2="387.4" stroke="#2d2d2d" stroke-width="2.2"/>
<polygon points="486.4,57 476.6,73.5 496.2,73.5" fill="#2d2d2d"/>
<polygon points="975.7,387.8 958,378.9 958,396.7" fill="#2d2d2d"/>
<polygon points="521.8,146.9 526.8,155 579.7,129.8 582.4,135.1 595.4,115.8 571.7,114.1 574.1,120.8" fill="url(#gup)"/>
<polygon points="723,105.2 719.3,112.4 768.7,140.8 765,146.7 789.1,147 776.8,126.6 773,133.4" fill="url(#gdown)"/>
<rect x="554.1" y="52.9" width="3.40" height="20" fill="#2b2b2b"/>
<rect x="744.9" y="52.9" width="3.40" height="20" fill="#2b2b2b"/>
<rect x="753.6" y="52.9" width="3.40" height="20" fill="#2b2b2b"/>
<rect x="883.9" y="52.9" width="3.60" height="20" fill="#2b2b2b"/>
<rect x="892.4" y="52.9" width="3.70" height="20" fill="#2b2b2b"/>
<rect x="901.0" y="52.9" width="3.80" height="20" fill="#2b2b2b"/>

<g style="filter:grayscale(1)">
<text x="185.8" y="370.9" font-size="30" textLength="48.3" lengthAdjust="spacingAndGlyphs" style="fill:#1f1f1f;stroke:#1f1f1f;stroke-width:0.35">SC1</text>
<text x="509.0" y="101.2" font-size="22.5" textLength="85.0" lengthAdjust="spacingAndGlyphs">Speed up</text>
<text x="713.5" y="101.2" font-size="22.5" textLength="100.5" lengthAdjust="spacingAndGlyphs">Slow down</text>
<text x="416.5" y="153.0" font-size="22.5" textLength="57.0" lengthAdjust="spacingAndGlyphs">Speed</text>
<text x="415.0" y="357.5" font-size="23.0" textLength="63.5" lengthAdjust="spacingAndGlyphs">Torque</text>
<text x="478.5" y="412.0" font-size="21.5">0</text>
<text x="913.6" y="413.0" font-size="21.5" textLength="34.0" lengthAdjust="spacingAndGlyphs">360</text>
<text x="617.5" y="429.5" font-size="22.5" textLength="185.5" lengthAdjust="spacingAndGlyphs">Rotation angle (deg)</text>
<text x="494.8" y="215.3" font-size="22.6">T</text><text x="506.0" y="215.3" font-size="13.5" textLength="13.0" lengthAdjust="spacingAndGlyphs">M</text><text x="523.8" y="215.3" font-size="19.0" textLength="118.5" lengthAdjust="spacingAndGlyphs">(Motor torque)</text>
<text x="862.6" y="251.0" font-size="23.6">T</text><text x="875.5" y="253.2" font-size="16.5">L</text><text x="888.3" y="251.0" font-size="19.0" textLength="107.0" lengthAdjust="spacingAndGlyphs">(Load torque)</text>
</g>
</svg>
</body></html>
